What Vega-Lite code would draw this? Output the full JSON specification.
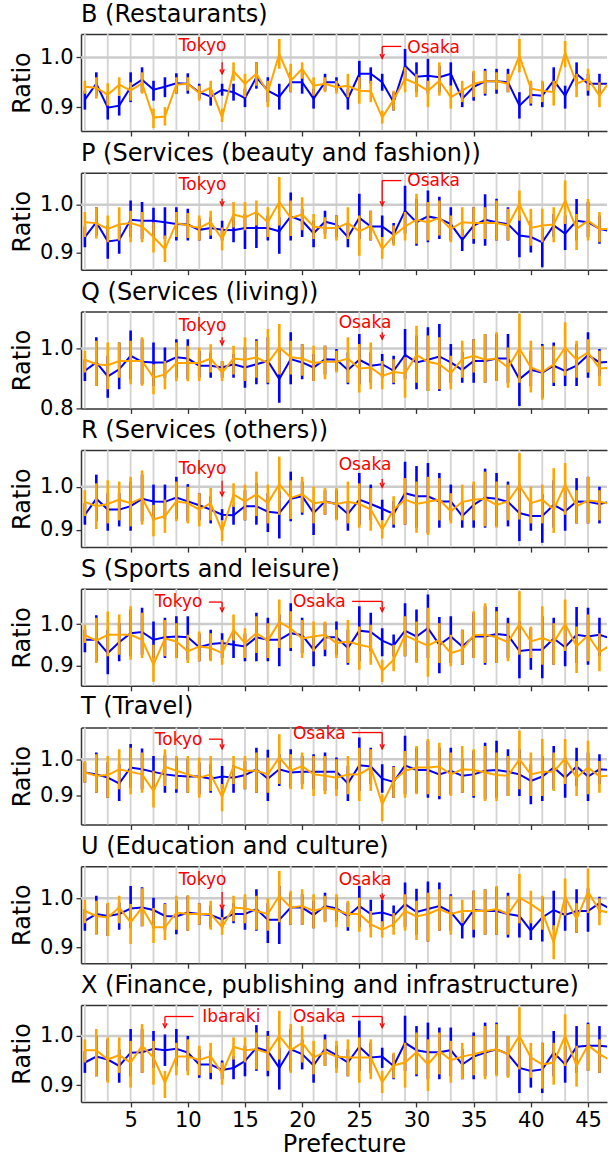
{
  "$schema": "https://vega.github.io/schema/vega-lite/v6.json",
  "padding": {"top": 3, "left": 10, "right": 0, "bottom": 0},
  "spacing": 41.7,
  "bounds": "flush",
  "datasets": {
    "odd": [{"pref":1},{"pref":3},{"pref":5},{"pref":7},{"pref":9},{"pref":11},{"pref":13},{"pref":15},{"pref":17},{"pref":19},{"pref":21},{"pref":23},{"pref":25},{"pref":27},{"pref":29},{"pref":31},{"pref":33},{"pref":35},{"pref":37},{"pref":39},{"pref":41},{"pref":43},{"pref":45},{"pref":47}],
    "ref": [{"ratio": 1.0}],
    "notes": [
      {"sector":"B","label":"Tokyo","x":11.3,"y":1.012},{"sector":"B","label":"Osaka","x":31.5,"y":1.008},
      {"sector":"P","label":"Tokyo","x":11.3,"y":1.031},{"sector":"P","label":"Osaka","x":31.5,"y":1.039},
      {"sector":"Q","label":"Tokyo","x":11.3,"y":1.057},{"sector":"Q","label":"Osaka","x":25.5,"y":1.068},
      {"sector":"R","label":"Tokyo","x":11.3,"y":1.030},{"sector":"R","label":"Osaka","x":25.5,"y":1.039},
      {"sector":"S","label":"Tokyo","x":9.2,"y":1.040},{"sector":"S","label":"Osaka","x":21.5,"y":1.040},
      {"sector":"T","label":"Tokyo","x":9.2,"y":1.039},{"sector":"T","label":"Osaka","x":21.5,"y":1.057},
      {"sector":"U","label":"Tokyo","x":11.3,"y":1.0275},{"sector":"U","label":"Osaka","x":25.5,"y":1.0275},
      {"sector":"X","label":"Ibaraki","x":13.8,"y":1.0286},{"sector":"X","label":"Osaka","x":21.5,"y":1.0286}
    ],
    "leaders": [
      {"sector":"B","x":13,"y":0.990,"x2":13,"y2":0.967},
      {"sector":"B","x":28.66,"y":1.022,"x2":27,"y2":1.022},{"sector":"B","x":27,"y":1.022,"x2":27,"y2":0.998},
      {"sector":"P","x":13,"y":1.0125,"x2":13,"y2":0.9985},
      {"sector":"P","x":28.66,"y":1.0506,"x2":27,"y2":1.0506},{"sector":"P","x":27,"y":1.0506,"x2":27,"y2":0.9985},
      {"sector":"Q","x":13,"y":1.037,"x2":13,"y2":1.0125},
      {"sector":"Q","x":27,"y":1.054,"x2":27,"y2":1.031},
      {"sector":"R","x":13,"y":1.014,"x2":13,"y2":0.979},
      {"sector":"R","x":27,"y":1.018,"x2":27,"y2":0.999},
      {"sector":"S","x":11.84,"y":1.053,"x2":13,"y2":1.053},{"sector":"S","x":13,"y":1.053,"x2":13,"y2":1.030},
      {"sector":"S","x":24.37,"y":1.0546,"x2":27,"y2":1.0546},{"sector":"S","x":27,"y":1.0546,"x2":27,"y2":1.030},
      {"sector":"T","x":11.84,"y":1.0556,"x2":13,"y2":1.0556},{"sector":"T","x":13,"y":1.0556,"x2":13,"y2":1.029},
      {"sector":"T","x":24.37,"y":1.074,"x2":27,"y2":1.074},{"sector":"T","x":27,"y":1.074,"x2":27,"y2":1.029},
      {"sector":"U","x":13,"y":1.0128,"x2":13,"y2":0.978},
      {"sector":"U","x":27,"y":1.010,"x2":27,"y2":0.998},
      {"sector":"X","x":10.49,"y":1.0394,"x2":8,"y2":1.0394},{"sector":"X","x":8,"y":1.0394,"x2":8,"y2":1.017},
      {"sector":"X","x":24.37,"y":1.0394,"x2":27,"y2":1.0394},{"sector":"X","x":27,"y":1.0394,"x2":27,"y2":1.017}
    ],
    "tips": [
      {"sector":"B","x":13,"y":0.967},{"sector":"B","x":27,"y":0.998},
      {"sector":"P","x":13,"y":0.9985},{"sector":"P","x":27,"y":0.9985},
      {"sector":"Q","x":13,"y":1.0125},{"sector":"Q","x":27,"y":1.031},
      {"sector":"R","x":13,"y":0.979},{"sector":"R","x":27,"y":0.999},
      {"sector":"S","x":13,"y":1.030},{"sector":"S","x":27,"y":1.030},
      {"sector":"T","x":13,"y":1.029},{"sector":"T","x":27,"y":1.029},
      {"sector":"U","x":13,"y":0.978},{"sector":"U","x":27,"y":0.998},
      {"sector":"X","x":8,"y":1.017},{"sector":"X","x":27,"y":1.017}
    ],
    "stats": [
      {"sector":"B","pref":1,"blue":0.915,"blue_lo":0.895,"blue_hi":0.933,"orange":0.941,"orange_lo":0.927,"orange_hi":0.953},
      {"sector":"B","pref":2,"blue":0.947,"blue_lo":0.923,"blue_hi":0.970,"orange":0.939,"orange_lo":0.917,"orange_hi":0.960},
      {"sector":"B","pref":3,"blue":0.899,"blue_lo":0.875,"blue_hi":0.923,"orange":0.925,"orange_lo":0.903,"orange_hi":0.948},
      {"sector":"B","pref":4,"blue":0.903,"blue_lo":0.883,"blue_hi":0.923,"orange":0.945,"orange_lo":0.923,"orange_hi":0.960},
      {"sector":"B","pref":5,"blue":0.940,"blue_lo":0.910,"blue_hi":0.970,"orange":0.933,"orange_lo":0.913,"orange_hi":0.950},
      {"sector":"B","pref":6,"blue":0.955,"blue_lo":0.930,"blue_hi":0.980,"orange":0.948,"orange_lo":0.927,"orange_hi":0.970},
      {"sector":"B","pref":7,"blue":0.935,"blue_lo":0.913,"blue_hi":0.953,"orange":0.879,"orange_lo":0.858,"orange_hi":0.897},
      {"sector":"B","pref":8,"blue":0.941,"blue_lo":0.920,"blue_hi":0.960,"orange":0.881,"orange_lo":0.863,"orange_hi":0.900},
      {"sector":"B","pref":9,"blue":0.948,"blue_lo":0.927,"blue_hi":0.968,"orange":0.945,"orange_lo":0.927,"orange_hi":0.960},
      {"sector":"B","pref":10,"blue":0.947,"blue_lo":0.927,"blue_hi":0.968,"orange":0.947,"orange_lo":0.933,"orange_hi":0.960},
      {"sector":"B","pref":11,"blue":0.930,"blue_lo":0.917,"blue_hi":0.947,"orange":0.928,"orange_lo":0.913,"orange_hi":0.943},
      {"sector":"B","pref":12,"blue":0.921,"blue_lo":0.903,"blue_hi":0.940,"orange":0.939,"orange_lo":0.920,"orange_hi":0.953},
      {"sector":"B","pref":13,"blue":0.935,"blue_lo":0.923,"blue_hi":0.947,"orange":0.879,"orange_lo":0.870,"orange_hi":0.897},
      {"sector":"B","pref":14,"blue":0.930,"blue_lo":0.913,"blue_hi":0.947,"orange":0.972,"orange_lo":0.953,"orange_hi":0.990},
      {"sector":"B","pref":15,"blue":0.918,"blue_lo":0.900,"blue_hi":0.937,"orange":0.947,"orange_lo":0.920,"orange_hi":0.967},
      {"sector":"B","pref":16,"blue":0.960,"blue_lo":0.937,"blue_hi":0.990,"orange":0.967,"orange_lo":0.943,"orange_hi":0.990},
      {"sector":"B","pref":17,"blue":0.933,"blue_lo":0.910,"blue_hi":0.960,"orange":0.930,"orange_lo":0.900,"orange_hi":0.953},
      {"sector":"B","pref":18,"blue":0.921,"blue_lo":0.895,"blue_hi":0.947,"orange":1.007,"orange_lo":0.977,"orange_hi":1.037},
      {"sector":"B","pref":19,"blue":0.950,"blue_lo":0.930,"blue_hi":0.970,"orange":0.953,"orange_lo":0.930,"orange_hi":0.987},
      {"sector":"B","pref":20,"blue":0.950,"blue_lo":0.927,"blue_hi":0.970,"orange":0.977,"orange_lo":0.957,"orange_hi":0.990},
      {"sector":"B","pref":21,"blue":0.917,"blue_lo":0.897,"blue_hi":0.937,"orange":0.943,"orange_lo":0.923,"orange_hi":0.960},
      {"sector":"B","pref":22,"blue":0.950,"blue_lo":0.933,"blue_hi":0.967,"orange":0.947,"orange_lo":0.930,"orange_hi":0.960},
      {"sector":"B","pref":23,"blue":0.950,"blue_lo":0.933,"blue_hi":0.960,"orange":0.940,"orange_lo":0.927,"orange_hi":0.953},
      {"sector":"B","pref":24,"blue":0.917,"blue_lo":0.895,"blue_hi":0.937,"orange":0.943,"orange_lo":0.920,"orange_hi":0.967},
      {"sector":"B","pref":25,"blue":0.967,"blue_lo":0.937,"blue_hi":0.993,"orange":0.933,"orange_lo":0.907,"orange_hi":0.960},
      {"sector":"B","pref":26,"blue":0.967,"blue_lo":0.947,"blue_hi":0.980,"orange":0.932,"orange_lo":0.910,"orange_hi":0.953},
      {"sector":"B","pref":27,"blue":0.950,"blue_lo":0.933,"blue_hi":0.967,"orange":0.879,"orange_lo":0.867,"orange_hi":0.893},
      {"sector":"B","pref":28,"blue":0.910,"blue_lo":0.893,"blue_hi":0.930,"orange":0.915,"orange_lo":0.893,"orange_hi":0.933},
      {"sector":"B","pref":29,"blue":0.983,"blue_lo":0.953,"blue_hi":1.017,"orange":0.957,"orange_lo":0.930,"orange_hi":0.980},
      {"sector":"B","pref":30,"blue":0.961,"blue_lo":0.930,"blue_hi":0.990,"orange":0.947,"orange_lo":0.920,"orange_hi":0.967},
      {"sector":"B","pref":31,"blue":0.963,"blue_lo":0.927,"blue_hi":0.997,"orange":0.933,"orange_lo":0.900,"orange_hi":0.953},
      {"sector":"B","pref":32,"blue":0.960,"blue_lo":0.930,"blue_hi":0.983,"orange":0.953,"orange_lo":0.923,"orange_hi":0.990},
      {"sector":"B","pref":33,"blue":0.967,"blue_lo":0.943,"blue_hi":0.990,"orange":0.920,"orange_lo":0.897,"orange_hi":0.943},
      {"sector":"B","pref":34,"blue":0.917,"blue_lo":0.900,"blue_hi":0.937,"orange":0.933,"orange_lo":0.910,"orange_hi":0.953},
      {"sector":"B","pref":35,"blue":0.941,"blue_lo":0.913,"blue_hi":0.970,"orange":0.947,"orange_lo":0.920,"orange_hi":0.973},
      {"sector":"B","pref":36,"blue":0.952,"blue_lo":0.923,"blue_hi":0.977,"orange":0.952,"orange_lo":0.927,"orange_hi":0.973},
      {"sector":"B","pref":37,"blue":0.952,"blue_lo":0.927,"blue_hi":0.977,"orange":0.952,"orange_lo":0.935,"orange_hi":0.970},
      {"sector":"B","pref":38,"blue":0.950,"blue_lo":0.930,"blue_hi":0.977,"orange":0.947,"orange_lo":0.930,"orange_hi":0.967},
      {"sector":"B","pref":39,"blue":0.903,"blue_lo":0.877,"blue_hi":0.930,"orange":1.003,"orange_lo":0.970,"orange_hi":1.037},
      {"sector":"B","pref":40,"blue":0.925,"blue_lo":0.903,"blue_hi":0.947,"orange":0.937,"orange_lo":0.907,"orange_hi":0.953},
      {"sector":"B","pref":41,"blue":0.923,"blue_lo":0.900,"blue_hi":0.950,"orange":0.933,"orange_lo":0.910,"orange_hi":0.953},
      {"sector":"B","pref":42,"blue":0.953,"blue_lo":0.930,"blue_hi":0.980,"orange":0.930,"orange_lo":0.903,"orange_hi":0.953},
      {"sector":"B","pref":43,"blue":0.923,"blue_lo":0.897,"blue_hi":0.943,"orange":1.010,"orange_lo":0.980,"orange_hi":1.033},
      {"sector":"B","pref":44,"blue":0.967,"blue_lo":0.943,"blue_hi":0.990,"orange":0.947,"orange_lo":0.920,"orange_hi":0.967},
      {"sector":"B","pref":45,"blue":0.947,"blue_lo":0.923,"blue_hi":0.967,"orange":0.957,"orange_lo":0.933,"orange_hi":0.977},
      {"sector":"B","pref":46,"blue":0.947,"blue_lo":0.927,"blue_hi":0.967,"orange":0.923,"orange_lo":0.900,"orange_hi":0.950},
      {"sector":"B","pref":47,"blue":0.947,"blue_lo":0.925,"blue_hi":0.970,"orange":0.955,"orange_lo":0.930,"orange_hi":0.980},

      {"sector":"P","pref":1,"blue":0.933,"blue_lo":0.912,"blue_hi":0.955,"orange":0.964,"orange_lo":0.933,"orange_hi":0.985},
      {"sector":"P","pref":2,"blue":0.964,"blue_lo":0.936,"blue_hi":0.995,"orange":0.962,"orange_lo":0.930,"orange_hi":0.995},
      {"sector":"P","pref":3,"blue":0.924,"blue_lo":0.888,"blue_hi":0.957,"orange":0.950,"orange_lo":0.922,"orange_hi":0.978},
      {"sector":"P","pref":4,"blue":0.927,"blue_lo":0.898,"blue_hi":0.957,"orange":0.959,"orange_lo":0.926,"orange_hi":0.995},
      {"sector":"P","pref":5,"blue":0.969,"blue_lo":0.933,"blue_hi":1.009,"orange":0.962,"orange_lo":0.922,"orange_hi":0.988},
      {"sector":"P","pref":6,"blue":0.967,"blue_lo":0.929,"blue_hi":1.006,"orange":0.955,"orange_lo":0.922,"orange_hi":0.985},
      {"sector":"P","pref":7,"blue":0.967,"blue_lo":0.933,"blue_hi":0.994,"orange":0.933,"orange_lo":0.901,"orange_hi":0.964},
      {"sector":"P","pref":8,"blue":0.964,"blue_lo":0.929,"blue_hi":0.995,"orange":0.908,"orange_lo":0.881,"orange_hi":0.936},
      {"sector":"P","pref":9,"blue":0.960,"blue_lo":0.926,"blue_hi":0.995,"orange":0.962,"orange_lo":0.933,"orange_hi":0.985},
      {"sector":"P","pref":10,"blue":0.959,"blue_lo":0.926,"blue_hi":0.992,"orange":0.957,"orange_lo":0.931,"orange_hi":0.983},
      {"sector":"P","pref":11,"blue":0.948,"blue_lo":0.926,"blue_hi":0.971,"orange":0.952,"orange_lo":0.926,"orange_hi":0.978},
      {"sector":"P","pref":12,"blue":0.952,"blue_lo":0.929,"blue_hi":0.974,"orange":0.964,"orange_lo":0.936,"orange_hi":0.988},
      {"sector":"P","pref":13,"blue":0.948,"blue_lo":0.926,"blue_hi":0.967,"orange":0.929,"orange_lo":0.905,"orange_hi":0.953},
      {"sector":"P","pref":14,"blue":0.947,"blue_lo":0.922,"blue_hi":0.974,"orange":0.980,"orange_lo":0.953,"orange_hi":1.006},
      {"sector":"P","pref":15,"blue":0.952,"blue_lo":0.908,"blue_hi":0.981,"orange":0.974,"orange_lo":0.947,"orange_hi":1.006},
      {"sector":"P","pref":16,"blue":0.952,"blue_lo":0.910,"blue_hi":0.985,"orange":0.985,"orange_lo":0.957,"orange_hi":1.009},
      {"sector":"P","pref":17,"blue":0.952,"blue_lo":0.926,"blue_hi":0.978,"orange":0.964,"orange_lo":0.933,"orange_hi":0.995},
      {"sector":"P","pref":18,"blue":0.945,"blue_lo":0.898,"blue_hi":0.974,"orange":1.006,"orange_lo":0.957,"orange_hi":1.058},
      {"sector":"P","pref":19,"blue":0.976,"blue_lo":0.926,"blue_hi":1.026,"orange":0.973,"orange_lo":0.935,"orange_hi":1.009},
      {"sector":"P","pref":20,"blue":0.967,"blue_lo":0.933,"blue_hi":0.992,"orange":0.980,"orange_lo":0.947,"orange_hi":1.016},
      {"sector":"P","pref":21,"blue":0.941,"blue_lo":0.912,"blue_hi":0.967,"orange":0.955,"orange_lo":0.929,"orange_hi":0.981},
      {"sector":"P","pref":22,"blue":0.965,"blue_lo":0.940,"blue_hi":0.988,"orange":0.952,"orange_lo":0.929,"orange_hi":0.974},
      {"sector":"P","pref":23,"blue":0.959,"blue_lo":0.933,"blue_hi":0.978,"orange":0.952,"orange_lo":0.926,"orange_hi":0.978},
      {"sector":"P","pref":24,"blue":0.933,"blue_lo":0.912,"blue_hi":0.961,"orange":0.962,"orange_lo":0.929,"orange_hi":0.995},
      {"sector":"P","pref":25,"blue":0.973,"blue_lo":0.929,"blue_hi":1.023,"orange":0.945,"orange_lo":0.894,"orange_hi":0.978},
      {"sector":"P","pref":26,"blue":0.955,"blue_lo":0.926,"blue_hi":0.988,"orange":0.957,"orange_lo":0.926,"orange_hi":0.988},
      {"sector":"P","pref":27,"blue":0.955,"blue_lo":0.933,"blue_hi":0.978,"orange":0.908,"orange_lo":0.888,"orange_hi":0.933},
      {"sector":"P","pref":28,"blue":0.938,"blue_lo":0.919,"blue_hi":0.962,"orange":0.936,"orange_lo":0.915,"orange_hi":0.957},
      {"sector":"P","pref":29,"blue":0.988,"blue_lo":0.940,"blue_hi":1.040,"orange":0.955,"orange_lo":0.926,"orange_hi":0.985},
      {"sector":"P","pref":30,"blue":0.964,"blue_lo":0.915,"blue_hi":1.013,"orange":0.969,"orange_lo":0.919,"orange_hi":1.023},
      {"sector":"P","pref":31,"blue":0.976,"blue_lo":0.922,"blue_hi":1.030,"orange":0.964,"orange_lo":0.926,"orange_hi":1.006},
      {"sector":"P","pref":32,"blue":0.971,"blue_lo":0.929,"blue_hi":1.017,"orange":0.973,"orange_lo":0.936,"orange_hi":1.009},
      {"sector":"P","pref":33,"blue":0.960,"blue_lo":0.926,"blue_hi":0.995,"orange":0.950,"orange_lo":0.922,"orange_hi":0.978},
      {"sector":"P","pref":34,"blue":0.927,"blue_lo":0.904,"blue_hi":0.950,"orange":0.964,"orange_lo":0.933,"orange_hi":0.995},
      {"sector":"P","pref":35,"blue":0.957,"blue_lo":0.919,"blue_hi":0.995,"orange":0.962,"orange_lo":0.929,"orange_hi":0.995},
      {"sector":"P","pref":36,"blue":0.969,"blue_lo":0.915,"blue_hi":1.022,"orange":0.962,"orange_lo":0.929,"orange_hi":0.995},
      {"sector":"P","pref":37,"blue":0.964,"blue_lo":0.926,"blue_hi":1.013,"orange":0.962,"orange_lo":0.926,"orange_hi":1.009},
      {"sector":"P","pref":38,"blue":0.960,"blue_lo":0.926,"blue_hi":0.995,"orange":0.957,"orange_lo":0.926,"orange_hi":0.992},
      {"sector":"P","pref":39,"blue":0.936,"blue_lo":0.891,"blue_hi":0.978,"orange":1.002,"orange_lo":0.967,"orange_hi":1.030},
      {"sector":"P","pref":40,"blue":0.933,"blue_lo":0.901,"blue_hi":0.967,"orange":0.952,"orange_lo":0.915,"orange_hi":0.992},
      {"sector":"P","pref":41,"blue":0.922,"blue_lo":0.870,"blue_hi":0.953,"orange":0.957,"orange_lo":0.922,"orange_hi":0.992},
      {"sector":"P","pref":42,"blue":0.957,"blue_lo":0.933,"blue_hi":0.981,"orange":0.959,"orange_lo":0.922,"orange_hi":0.995},
      {"sector":"P","pref":43,"blue":0.940,"blue_lo":0.906,"blue_hi":0.978,"orange":1.009,"orange_lo":0.960,"orange_hi":1.051},
      {"sector":"P","pref":44,"blue":0.967,"blue_lo":0.926,"blue_hi":1.012,"orange":0.950,"orange_lo":0.906,"orange_hi":0.981},
      {"sector":"P","pref":45,"blue":0.964,"blue_lo":0.933,"blue_hi":1.006,"orange":0.967,"orange_lo":0.926,"orange_hi":1.012},
      {"sector":"P","pref":46,"blue":0.950,"blue_lo":0.919,"blue_hi":0.978,"orange":0.950,"orange_lo":0.922,"orange_hi":0.985},
      {"sector":"P","pref":47,"blue":0.945,"blue_lo":0.915,"blue_hi":0.975,"orange":0.950,"orange_lo":0.920,"orange_hi":0.980},

      {"sector":"Q","pref":1,"blue":0.925,"blue_lo":0.891,"blue_hi":0.964,"orange":0.962,"orange_lo":0.919,"orange_hi":0.992},
      {"sector":"Q","pref":2,"blue":0.953,"blue_lo":0.874,"blue_hi":1.037,"orange":0.947,"orange_lo":0.874,"orange_hi":1.026},
      {"sector":"Q","pref":3,"blue":0.906,"blue_lo":0.835,"blue_hi":0.975,"orange":0.944,"orange_lo":0.863,"orange_hi":1.020},
      {"sector":"Q","pref":4,"blue":0.930,"blue_lo":0.863,"blue_hi":1.020,"orange":0.958,"orange_lo":0.902,"orange_hi":1.020},
      {"sector":"Q","pref":5,"blue":0.975,"blue_lo":0.897,"blue_hi":1.060,"orange":0.958,"orange_lo":0.880,"orange_hi":1.026},
      {"sector":"Q","pref":6,"blue":0.955,"blue_lo":0.880,"blue_hi":1.031,"orange":0.958,"orange_lo":0.875,"orange_hi":1.037},
      {"sector":"Q","pref":7,"blue":0.953,"blue_lo":0.874,"blue_hi":1.020,"orange":0.902,"orange_lo":0.846,"orange_hi":0.947},
      {"sector":"Q","pref":8,"blue":0.953,"blue_lo":0.902,"blue_hi":1.003,"orange":0.913,"orange_lo":0.863,"orange_hi":0.958},
      {"sector":"Q","pref":9,"blue":0.970,"blue_lo":0.902,"blue_hi":1.031,"orange":0.951,"orange_lo":0.890,"orange_hi":1.020},
      {"sector":"Q","pref":10,"blue":0.966,"blue_lo":0.897,"blue_hi":1.031,"orange":0.951,"orange_lo":0.890,"orange_hi":1.009},
      {"sector":"Q","pref":11,"blue":0.942,"blue_lo":0.902,"blue_hi":0.992,"orange":0.951,"orange_lo":0.891,"orange_hi":1.003},
      {"sector":"Q","pref":12,"blue":0.942,"blue_lo":0.902,"blue_hi":0.986,"orange":0.966,"orange_lo":0.919,"orange_hi":1.014},
      {"sector":"Q","pref":13,"blue":0.936,"blue_lo":0.902,"blue_hi":0.958,"orange":0.919,"orange_lo":0.891,"orange_hi":0.958},
      {"sector":"Q","pref":14,"blue":0.947,"blue_lo":0.902,"blue_hi":0.981,"orange":0.966,"orange_lo":0.913,"orange_hi":1.009},
      {"sector":"Q","pref":15,"blue":0.936,"blue_lo":0.868,"blue_hi":1.004,"orange":0.962,"orange_lo":0.891,"orange_hi":1.037},
      {"sector":"Q","pref":16,"blue":0.947,"blue_lo":0.880,"blue_hi":1.031,"orange":0.970,"orange_lo":0.902,"orange_hi":1.026},
      {"sector":"Q","pref":17,"blue":0.958,"blue_lo":0.880,"blue_hi":1.037,"orange":0.951,"orange_lo":0.885,"orange_hi":1.065},
      {"sector":"Q","pref":18,"blue":0.897,"blue_lo":0.818,"blue_hi":1.003,"orange":1.003,"orange_lo":0.913,"orange_hi":1.082},
      {"sector":"Q","pref":19,"blue":0.964,"blue_lo":0.880,"blue_hi":1.054,"orange":0.970,"orange_lo":0.913,"orange_hi":1.026},
      {"sector":"Q","pref":20,"blue":0.953,"blue_lo":0.897,"blue_hi":1.014,"orange":0.966,"orange_lo":0.908,"orange_hi":1.014},
      {"sector":"Q","pref":21,"blue":0.936,"blue_lo":0.891,"blue_hi":0.981,"orange":0.951,"orange_lo":0.891,"orange_hi":1.009},
      {"sector":"Q","pref":22,"blue":0.964,"blue_lo":0.913,"blue_hi":1.009,"orange":0.955,"orange_lo":0.897,"orange_hi":1.009},
      {"sector":"Q","pref":23,"blue":0.962,"blue_lo":0.925,"blue_hi":0.998,"orange":0.955,"orange_lo":0.919,"orange_hi":0.992},
      {"sector":"Q","pref":24,"blue":0.928,"blue_lo":0.880,"blue_hi":0.986,"orange":0.966,"orange_lo":0.885,"orange_hi":1.037},
      {"sector":"Q","pref":25,"blue":0.962,"blue_lo":0.880,"blue_hi":1.048,"orange":0.933,"orange_lo":0.852,"orange_hi":1.015},
      {"sector":"Q","pref":26,"blue":0.942,"blue_lo":0.885,"blue_hi":0.986,"orange":0.936,"orange_lo":0.863,"orange_hi":1.020},
      {"sector":"Q","pref":27,"blue":0.947,"blue_lo":0.902,"blue_hi":0.981,"orange":0.908,"orange_lo":0.863,"orange_hi":0.958},
      {"sector":"Q","pref":28,"blue":0.925,"blue_lo":0.880,"blue_hi":0.975,"orange":0.921,"orange_lo":0.885,"orange_hi":0.964},
      {"sector":"Q","pref":29,"blue":0.978,"blue_lo":0.897,"blue_hi":1.065,"orange":0.917,"orange_lo":0.835,"orange_hi":0.970},
      {"sector":"Q","pref":30,"blue":0.953,"blue_lo":0.863,"blue_hi":1.043,"orange":0.978,"orange_lo":0.885,"orange_hi":1.076},
      {"sector":"Q","pref":31,"blue":0.962,"blue_lo":0.857,"blue_hi":1.071,"orange":0.955,"orange_lo":0.857,"orange_hi":1.043},
      {"sector":"Q","pref":32,"blue":0.973,"blue_lo":0.857,"blue_hi":1.082,"orange":0.947,"orange_lo":0.863,"orange_hi":1.037},
      {"sector":"Q","pref":33,"blue":0.953,"blue_lo":0.885,"blue_hi":1.015,"orange":0.917,"orange_lo":0.863,"orange_hi":0.975},
      {"sector":"Q","pref":34,"blue":0.928,"blue_lo":0.885,"blue_hi":0.988,"orange":0.964,"orange_lo":0.902,"orange_hi":1.026},
      {"sector":"Q","pref":35,"blue":0.958,"blue_lo":0.885,"blue_hi":1.031,"orange":0.975,"orange_lo":0.919,"orange_hi":1.031},
      {"sector":"Q","pref":36,"blue":0.958,"blue_lo":0.885,"blue_hi":1.048,"orange":0.962,"orange_lo":0.885,"orange_hi":1.048},
      {"sector":"Q","pref":37,"blue":0.966,"blue_lo":0.891,"blue_hi":1.048,"orange":0.966,"orange_lo":0.891,"orange_hi":1.054},
      {"sector":"Q","pref":38,"blue":0.966,"blue_lo":0.885,"blue_hi":1.048,"orange":0.936,"orange_lo":0.868,"orange_hi":1.003},
      {"sector":"Q","pref":39,"blue":0.897,"blue_lo":0.807,"blue_hi":0.980,"orange":1.000,"orange_lo":0.885,"orange_hi":1.116},
      {"sector":"Q","pref":40,"blue":0.928,"blue_lo":0.874,"blue_hi":0.992,"orange":0.936,"orange_lo":0.852,"orange_hi":1.026},
      {"sector":"Q","pref":41,"blue":0.919,"blue_lo":0.835,"blue_hi":1.015,"orange":0.921,"orange_lo":0.828,"orange_hi":1.009},
      {"sector":"Q","pref":42,"blue":0.942,"blue_lo":0.874,"blue_hi":1.020,"orange":0.947,"orange_lo":0.885,"orange_hi":1.009},
      {"sector":"Q","pref":43,"blue":0.925,"blue_lo":0.874,"blue_hi":0.992,"orange":1.003,"orange_lo":0.908,"orange_hi":1.088},
      {"sector":"Q","pref":44,"blue":0.942,"blue_lo":0.874,"blue_hi":1.014,"orange":0.962,"orange_lo":0.902,"orange_hi":1.026},
      {"sector":"Q","pref":45,"blue":0.978,"blue_lo":0.902,"blue_hi":1.054,"orange":0.987,"orange_lo":0.919,"orange_hi":1.031},
      {"sector":"Q","pref":46,"blue":0.953,"blue_lo":0.908,"blue_hi":0.998,"orange":0.933,"orange_lo":0.874,"orange_hi":0.992},
      {"sector":"Q","pref":47,"blue":0.955,"blue_lo":0.900,"blue_hi":1.010,"orange":0.935,"orange_lo":0.880,"orange_hi":0.995},

      {"sector":"R","pref":1,"blue":0.935,"blue_lo":0.912,"blue_hi":0.962,"orange":0.965,"orange_lo":0.932,"orange_hi":0.992},
      {"sector":"R","pref":2,"blue":0.972,"blue_lo":0.920,"blue_hi":1.028,"orange":0.955,"orange_lo":0.902,"orange_hi":1.008},
      {"sector":"R","pref":3,"blue":0.947,"blue_lo":0.898,"blue_hi":0.985,"orange":0.960,"orange_lo":0.915,"orange_hi":1.015},
      {"sector":"R","pref":4,"blue":0.947,"blue_lo":0.908,"blue_hi":0.985,"orange":0.970,"orange_lo":0.922,"orange_hi":1.012},
      {"sector":"R","pref":5,"blue":0.955,"blue_lo":0.898,"blue_hi":1.012,"orange":0.962,"orange_lo":0.908,"orange_hi":1.023},
      {"sector":"R","pref":6,"blue":0.972,"blue_lo":0.920,"blue_hi":1.028,"orange":0.974,"orange_lo":0.912,"orange_hi":1.038},
      {"sector":"R","pref":7,"blue":0.966,"blue_lo":0.922,"blue_hi":1.005,"orange":0.924,"orange_lo":0.885,"orange_hi":0.958},
      {"sector":"R","pref":8,"blue":0.965,"blue_lo":0.925,"blue_hi":1.005,"orange":0.932,"orange_lo":0.893,"orange_hi":0.970},
      {"sector":"R","pref":9,"blue":0.975,"blue_lo":0.925,"blue_hi":1.023,"orange":0.966,"orange_lo":0.920,"orange_hi":1.012},
      {"sector":"R","pref":10,"blue":0.966,"blue_lo":0.920,"blue_hi":1.006,"orange":0.962,"orange_lo":0.915,"orange_hi":1.000},
      {"sector":"R","pref":11,"blue":0.957,"blue_lo":0.922,"blue_hi":0.985,"orange":0.947,"orange_lo":0.908,"orange_hi":0.985},
      {"sector":"R","pref":12,"blue":0.947,"blue_lo":0.915,"blue_hi":0.978,"orange":0.962,"orange_lo":0.922,"orange_hi":0.997},
      {"sector":"R","pref":13,"blue":0.935,"blue_lo":0.922,"blue_hi":0.948,"orange":0.897,"orange_lo":0.874,"orange_hi":0.920},
      {"sector":"R","pref":14,"blue":0.934,"blue_lo":0.912,"blue_hi":0.958,"orange":0.982,"orange_lo":0.953,"orange_hi":1.008},
      {"sector":"R","pref":15,"blue":0.955,"blue_lo":0.922,"blue_hi":0.992,"orange":0.966,"orange_lo":0.922,"orange_hi":1.005},
      {"sector":"R","pref":16,"blue":0.955,"blue_lo":0.912,"blue_hi":1.008,"orange":0.982,"orange_lo":0.932,"orange_hi":1.035},
      {"sector":"R","pref":17,"blue":0.942,"blue_lo":0.895,"blue_hi":0.985,"orange":0.962,"orange_lo":0.915,"orange_hi":1.005},
      {"sector":"R","pref":18,"blue":0.939,"blue_lo":0.880,"blue_hi":0.990,"orange":1.006,"orange_lo":0.935,"orange_hi":1.070},
      {"sector":"R","pref":19,"blue":0.972,"blue_lo":0.920,"blue_hi":1.035,"orange":0.974,"orange_lo":0.925,"orange_hi":1.015},
      {"sector":"R","pref":20,"blue":0.978,"blue_lo":0.935,"blue_hi":1.012,"orange":0.983,"orange_lo":0.940,"orange_hi":1.023},
      {"sector":"R","pref":21,"blue":0.939,"blue_lo":0.888,"blue_hi":0.965,"orange":0.962,"orange_lo":0.915,"orange_hi":1.000},
      {"sector":"R","pref":22,"blue":0.966,"blue_lo":0.935,"blue_hi":0.992,"orange":0.965,"orange_lo":0.935,"orange_hi":0.997},
      {"sector":"R","pref":23,"blue":0.960,"blue_lo":0.925,"blue_hi":0.992,"orange":0.960,"orange_lo":0.922,"orange_hi":0.997},
      {"sector":"R","pref":24,"blue":0.937,"blue_lo":0.898,"blue_hi":0.967,"orange":0.965,"orange_lo":0.915,"orange_hi":1.012},
      {"sector":"R","pref":25,"blue":0.970,"blue_lo":0.912,"blue_hi":1.032,"orange":0.960,"orange_lo":0.905,"orange_hi":1.008},
      {"sector":"R","pref":26,"blue":0.960,"blue_lo":0.922,"blue_hi":1.005,"orange":0.947,"orange_lo":0.898,"orange_hi":0.997},
      {"sector":"R","pref":27,"blue":0.949,"blue_lo":0.922,"blue_hi":0.970,"orange":0.901,"orange_lo":0.880,"orange_hi":0.922},
      {"sector":"R","pref":28,"blue":0.937,"blue_lo":0.905,"blue_hi":0.967,"orange":0.947,"orange_lo":0.912,"orange_hi":0.978},
      {"sector":"R","pref":29,"blue":0.985,"blue_lo":0.912,"blue_hi":1.058,"orange":0.970,"orange_lo":0.912,"orange_hi":1.020},
      {"sector":"R","pref":30,"blue":0.978,"blue_lo":0.905,"blue_hi":1.048,"orange":0.960,"orange_lo":0.893,"orange_hi":1.012},
      {"sector":"R","pref":31,"blue":0.978,"blue_lo":0.893,"blue_hi":1.055,"orange":0.965,"orange_lo":0.888,"orange_hi":1.023},
      {"sector":"R","pref":32,"blue":0.966,"blue_lo":0.905,"blue_hi":1.032,"orange":0.970,"orange_lo":0.922,"orange_hi":1.020},
      {"sector":"R","pref":33,"blue":0.966,"blue_lo":0.922,"blue_hi":1.005,"orange":0.943,"orange_lo":0.915,"orange_hi":0.985},
      {"sector":"R","pref":34,"blue":0.932,"blue_lo":0.905,"blue_hi":0.967,"orange":0.965,"orange_lo":0.922,"orange_hi":1.005},
      {"sector":"R","pref":35,"blue":0.958,"blue_lo":0.905,"blue_hi":1.005,"orange":0.970,"orange_lo":0.922,"orange_hi":1.012},
      {"sector":"R","pref":36,"blue":0.975,"blue_lo":0.905,"blue_hi":1.042,"orange":0.972,"orange_lo":0.908,"orange_hi":1.035},
      {"sector":"R","pref":37,"blue":0.972,"blue_lo":0.908,"blue_hi":1.032,"orange":0.958,"orange_lo":0.905,"orange_hi":1.012},
      {"sector":"R","pref":38,"blue":0.965,"blue_lo":0.908,"blue_hi":1.012,"orange":0.966,"orange_lo":0.922,"orange_hi":1.005},
      {"sector":"R","pref":39,"blue":0.939,"blue_lo":0.874,"blue_hi":1.005,"orange":1.003,"orange_lo":0.924,"orange_hi":1.078},
      {"sector":"R","pref":40,"blue":0.932,"blue_lo":0.898,"blue_hi":0.967,"orange":0.962,"orange_lo":0.915,"orange_hi":1.000},
      {"sector":"R","pref":41,"blue":0.932,"blue_lo":0.870,"blue_hi":0.983,"orange":0.970,"orange_lo":0.915,"orange_hi":1.005},
      {"sector":"R","pref":42,"blue":0.958,"blue_lo":0.905,"blue_hi":1.015,"orange":0.947,"orange_lo":0.893,"orange_hi":1.043},
      {"sector":"R","pref":43,"blue":0.943,"blue_lo":0.898,"blue_hi":0.992,"orange":1.005,"orange_lo":0.935,"orange_hi":1.055},
      {"sector":"R","pref":44,"blue":0.966,"blue_lo":0.915,"blue_hi":1.020,"orange":0.955,"orange_lo":0.915,"orange_hi":0.992},
      {"sector":"R","pref":45,"blue":0.965,"blue_lo":0.915,"blue_hi":1.023,"orange":0.968,"orange_lo":0.915,"orange_hi":1.023},
      {"sector":"R","pref":46,"blue":0.960,"blue_lo":0.915,"blue_hi":1.000,"orange":0.965,"orange_lo":0.922,"orange_hi":0.992},
      {"sector":"R","pref":47,"blue":0.965,"blue_lo":0.920,"blue_hi":1.010,"orange":0.960,"orange_lo":0.920,"orange_hi":1.000},

      {"sector":"S","pref":1,"blue":0.962,"blue_lo":0.932,"blue_hi":0.986,"orange":0.973,"orange_lo":0.954,"orange_hi":0.998},
      {"sector":"S","pref":2,"blue":0.962,"blue_lo":0.910,"blue_hi":1.021,"orange":0.960,"orange_lo":0.906,"orange_hi":1.015},
      {"sector":"S","pref":3,"blue":0.930,"blue_lo":0.879,"blue_hi":0.986,"orange":0.974,"orange_lo":0.922,"orange_hi":1.030},
      {"sector":"S","pref":4,"blue":0.956,"blue_lo":0.910,"blue_hi":1.002,"orange":0.974,"orange_lo":0.926,"orange_hi":1.023},
      {"sector":"S","pref":5,"blue":0.978,"blue_lo":0.922,"blue_hi":1.035,"orange":0.974,"orange_lo":0.914,"orange_hi":1.043},
      {"sector":"S","pref":6,"blue":0.981,"blue_lo":0.926,"blue_hi":1.039,"orange":0.962,"orange_lo":0.918,"orange_hi":1.027},
      {"sector":"S","pref":7,"blue":0.962,"blue_lo":0.918,"blue_hi":1.006,"orange":0.902,"orange_lo":0.861,"orange_hi":0.950},
      {"sector":"S","pref":8,"blue":0.968,"blue_lo":0.918,"blue_hi":1.015,"orange":0.965,"orange_lo":0.922,"orange_hi":1.010},
      {"sector":"S","pref":9,"blue":0.970,"blue_lo":0.918,"blue_hi":1.019,"orange":0.958,"orange_lo":0.918,"orange_hi":1.002},
      {"sector":"S","pref":10,"blue":0.968,"blue_lo":0.914,"blue_hi":1.019,"orange":0.934,"orange_lo":0.906,"orange_hi":0.974},
      {"sector":"S","pref":11,"blue":0.944,"blue_lo":0.910,"blue_hi":0.977,"orange":0.946,"orange_lo":0.910,"orange_hi":0.982},
      {"sector":"S","pref":12,"blue":0.952,"blue_lo":0.914,"blue_hi":0.986,"orange":0.942,"orange_lo":0.910,"orange_hi":0.978},
      {"sector":"S","pref":13,"blue":0.954,"blue_lo":0.918,"blue_hi":0.978,"orange":0.930,"orange_lo":0.902,"orange_hi":0.962},
      {"sector":"S","pref":14,"blue":0.950,"blue_lo":0.918,"blue_hi":0.982,"orange":0.986,"orange_lo":0.960,"orange_hi":1.023},
      {"sector":"S","pref":15,"blue":0.946,"blue_lo":0.910,"blue_hi":0.977,"orange":0.954,"orange_lo":0.918,"orange_hi":0.990},
      {"sector":"S","pref":16,"blue":0.968,"blue_lo":0.910,"blue_hi":1.027,"orange":0.978,"orange_lo":0.930,"orange_hi":1.019},
      {"sector":"S","pref":17,"blue":0.962,"blue_lo":0.910,"blue_hi":1.015,"orange":0.960,"orange_lo":0.918,"orange_hi":1.002},
      {"sector":"S","pref":18,"blue":0.962,"blue_lo":0.898,"blue_hi":1.023,"orange":1.005,"orange_lo":0.942,"orange_hi":1.059},
      {"sector":"S","pref":19,"blue":0.978,"blue_lo":0.935,"blue_hi":1.050,"orange":0.989,"orange_lo":0.942,"orange_hi":1.031},
      {"sector":"S","pref":20,"blue":0.973,"blue_lo":0.930,"blue_hi":1.015,"orange":0.965,"orange_lo":0.918,"orange_hi":1.010},
      {"sector":"S","pref":21,"blue":0.938,"blue_lo":0.898,"blue_hi":0.970,"orange":0.970,"orange_lo":0.934,"orange_hi":1.006},
      {"sector":"S","pref":22,"blue":0.968,"blue_lo":0.922,"blue_hi":1.002,"orange":0.974,"orange_lo":0.938,"orange_hi":1.006},
      {"sector":"S","pref":23,"blue":0.968,"blue_lo":0.926,"blue_hi":1.006,"orange":0.954,"orange_lo":0.918,"orange_hi":0.986},
      {"sector":"S","pref":24,"blue":0.942,"blue_lo":0.902,"blue_hi":0.986,"orange":0.958,"orange_lo":0.906,"orange_hi":1.010},
      {"sector":"S","pref":25,"blue":0.984,"blue_lo":0.910,"blue_hi":1.043,"orange":0.950,"orange_lo":0.890,"orange_hi":0.994},
      {"sector":"S","pref":26,"blue":0.981,"blue_lo":0.934,"blue_hi":1.027,"orange":0.944,"orange_lo":0.902,"orange_hi":0.998},
      {"sector":"S","pref":27,"blue":0.960,"blue_lo":0.922,"blue_hi":0.990,"orange":0.887,"orange_lo":0.860,"orange_hi":0.914},
      {"sector":"S","pref":28,"blue":0.948,"blue_lo":0.922,"blue_hi":0.975,"orange":0.914,"orange_lo":0.886,"orange_hi":0.950},
      {"sector":"S","pref":29,"blue":0.984,"blue_lo":0.922,"blue_hi":1.050,"orange":0.973,"orange_lo":0.922,"orange_hi":1.019},
      {"sector":"S","pref":30,"blue":0.970,"blue_lo":0.910,"blue_hi":1.035,"orange":0.960,"orange_lo":0.906,"orange_hi":1.006},
      {"sector":"S","pref":31,"blue":0.990,"blue_lo":0.918,"blue_hi":1.071,"orange":0.948,"orange_lo":0.873,"orange_hi":1.039},
      {"sector":"S","pref":32,"blue":0.950,"blue_lo":0.881,"blue_hi":1.017,"orange":0.962,"orange_lo":0.906,"orange_hi":1.002},
      {"sector":"S","pref":33,"blue":0.970,"blue_lo":0.906,"blue_hi":1.019,"orange":0.930,"orange_lo":0.898,"orange_hi":0.974},
      {"sector":"S","pref":34,"blue":0.946,"blue_lo":0.902,"blue_hi":0.986,"orange":0.938,"orange_lo":0.902,"orange_hi":0.986},
      {"sector":"S","pref":35,"blue":0.970,"blue_lo":0.918,"blue_hi":1.027,"orange":0.973,"orange_lo":0.918,"orange_hi":1.031},
      {"sector":"S","pref":36,"blue":0.970,"blue_lo":0.902,"blue_hi":1.043,"orange":0.974,"orange_lo":0.906,"orange_hi":1.050},
      {"sector":"S","pref":37,"blue":0.976,"blue_lo":0.906,"blue_hi":1.041,"orange":0.968,"orange_lo":0.906,"orange_hi":1.031},
      {"sector":"S","pref":38,"blue":0.973,"blue_lo":0.918,"blue_hi":1.015,"orange":0.956,"orange_lo":0.910,"orange_hi":1.002},
      {"sector":"S","pref":39,"blue":0.935,"blue_lo":0.869,"blue_hi":1.006,"orange":1.000,"orange_lo":0.926,"orange_hi":1.079},
      {"sector":"S","pref":40,"blue":0.938,"blue_lo":0.890,"blue_hi":0.990,"orange":0.958,"orange_lo":0.918,"orange_hi":0.994},
      {"sector":"S","pref":41,"blue":0.938,"blue_lo":0.869,"blue_hi":1.019,"orange":0.966,"orange_lo":0.902,"orange_hi":1.043},
      {"sector":"S","pref":42,"blue":0.965,"blue_lo":0.902,"blue_hi":1.015,"orange":0.956,"orange_lo":0.902,"orange_hi":1.002},
      {"sector":"S","pref":43,"blue":0.944,"blue_lo":0.898,"blue_hi":0.994,"orange":1.000,"orange_lo":0.935,"orange_hi":1.059},
      {"sector":"S","pref":44,"blue":0.974,"blue_lo":0.906,"blue_hi":1.041,"orange":0.946,"orange_lo":0.882,"orange_hi":0.994},
      {"sector":"S","pref":45,"blue":0.970,"blue_lo":0.902,"blue_hi":1.039,"orange":0.973,"orange_lo":0.910,"orange_hi":1.023},
      {"sector":"S","pref":46,"blue":0.974,"blue_lo":0.922,"blue_hi":1.015,"orange":0.932,"orange_lo":0.886,"orange_hi":0.977},
      {"sector":"S","pref":47,"blue":0.965,"blue_lo":0.915,"blue_hi":1.010,"orange":0.950,"orange_lo":0.900,"orange_hi":1.000},

      {"sector":"T","pref":1,"blue":0.963,"blue_lo":0.935,"blue_hi":0.991,"orange":0.963,"orange_lo":0.935,"orange_hi":0.995},
      {"sector":"T","pref":2,"blue":0.958,"blue_lo":0.907,"blue_hi":1.019,"orange":0.954,"orange_lo":0.907,"orange_hi":1.014},
      {"sector":"T","pref":3,"blue":0.949,"blue_lo":0.893,"blue_hi":0.991,"orange":0.956,"orange_lo":0.893,"orange_hi":1.009},
      {"sector":"T","pref":4,"blue":0.933,"blue_lo":0.884,"blue_hi":0.986,"orange":0.972,"orange_lo":0.917,"orange_hi":1.028},
      {"sector":"T","pref":5,"blue":0.977,"blue_lo":0.921,"blue_hi":1.042,"orange":0.965,"orange_lo":0.903,"orange_hi":1.032},
      {"sector":"T","pref":6,"blue":0.972,"blue_lo":0.917,"blue_hi":1.030,"orange":0.958,"orange_lo":0.907,"orange_hi":1.019},
      {"sector":"T","pref":7,"blue":0.965,"blue_lo":0.917,"blue_hi":1.009,"orange":0.912,"orange_lo":0.866,"orange_hi":0.968},
      {"sector":"T","pref":8,"blue":0.958,"blue_lo":0.907,"blue_hi":1.011,"orange":0.979,"orange_lo":0.926,"orange_hi":1.028},
      {"sector":"T","pref":9,"blue":0.954,"blue_lo":0.907,"blue_hi":1.005,"orange":0.968,"orange_lo":0.917,"orange_hi":1.009},
      {"sector":"T","pref":10,"blue":0.952,"blue_lo":0.907,"blue_hi":1.000,"orange":0.958,"orange_lo":0.907,"orange_hi":1.009},
      {"sector":"T","pref":11,"blue":0.952,"blue_lo":0.903,"blue_hi":0.991,"orange":0.949,"orange_lo":0.893,"orange_hi":1.005},
      {"sector":"T","pref":12,"blue":0.946,"blue_lo":0.907,"blue_hi":0.986,"orange":0.958,"orange_lo":0.912,"orange_hi":1.009},
      {"sector":"T","pref":13,"blue":0.952,"blue_lo":0.917,"blue_hi":0.981,"orange":0.896,"orange_lo":0.856,"orange_hi":0.931},
      {"sector":"T","pref":14,"blue":0.949,"blue_lo":0.907,"blue_hi":0.984,"orange":0.981,"orange_lo":0.931,"orange_hi":1.009},
      {"sector":"T","pref":15,"blue":0.956,"blue_lo":0.917,"blue_hi":0.995,"orange":0.968,"orange_lo":0.917,"orange_hi":1.009},
      {"sector":"T","pref":16,"blue":0.972,"blue_lo":0.907,"blue_hi":1.032,"orange":0.968,"orange_lo":0.907,"orange_hi":1.019},
      {"sector":"T","pref":17,"blue":0.946,"blue_lo":0.884,"blue_hi":1.026,"orange":0.958,"orange_lo":0.907,"orange_hi":1.005},
      {"sector":"T","pref":18,"blue":0.972,"blue_lo":0.926,"blue_hi":1.014,"orange":1.005,"orange_lo":0.931,"orange_hi":1.069},
      {"sector":"T","pref":19,"blue":0.963,"blue_lo":0.921,"blue_hi":1.028,"orange":0.968,"orange_lo":0.917,"orange_hi":1.014},
      {"sector":"T","pref":20,"blue":0.965,"blue_lo":0.931,"blue_hi":1.009,"orange":0.981,"orange_lo":0.917,"orange_hi":1.019},
      {"sector":"T","pref":21,"blue":0.965,"blue_lo":0.917,"blue_hi":1.014,"orange":0.958,"orange_lo":0.898,"orange_hi":1.009},
      {"sector":"T","pref":22,"blue":0.965,"blue_lo":0.912,"blue_hi":1.019,"orange":0.954,"orange_lo":0.903,"orange_hi":1.009},
      {"sector":"T","pref":23,"blue":0.965,"blue_lo":0.917,"blue_hi":1.005,"orange":0.949,"orange_lo":0.898,"orange_hi":1.000},
      {"sector":"T","pref":24,"blue":0.933,"blue_lo":0.884,"blue_hi":0.981,"orange":0.958,"orange_lo":0.903,"orange_hi":1.009},
      {"sector":"T","pref":25,"blue":0.983,"blue_lo":0.912,"blue_hi":1.060,"orange":0.958,"orange_lo":0.884,"orange_hi":1.032},
      {"sector":"T","pref":26,"blue":0.980,"blue_lo":0.931,"blue_hi":1.032,"orange":0.977,"orange_lo":0.912,"orange_hi":1.028},
      {"sector":"T","pref":27,"blue":0.946,"blue_lo":0.907,"blue_hi":0.986,"orange":0.875,"orange_lo":0.829,"orange_hi":0.903},
      {"sector":"T","pref":28,"blue":0.937,"blue_lo":0.893,"blue_hi":0.981,"orange":0.940,"orange_lo":0.893,"orange_hi":0.979},
      {"sector":"T","pref":29,"blue":0.983,"blue_lo":0.903,"blue_hi":1.065,"orange":0.968,"orange_lo":0.893,"orange_hi":1.023},
      {"sector":"T","pref":30,"blue":0.970,"blue_lo":0.907,"blue_hi":1.032,"orange":0.977,"orange_lo":0.903,"orange_hi":1.037},
      {"sector":"T","pref":31,"blue":0.970,"blue_lo":0.893,"blue_hi":1.051,"orange":0.977,"orange_lo":0.903,"orange_hi":1.056},
      {"sector":"T","pref":32,"blue":0.958,"blue_lo":0.889,"blue_hi":1.032,"orange":0.980,"orange_lo":0.898,"orange_hi":1.046},
      {"sector":"T","pref":33,"blue":0.968,"blue_lo":0.903,"blue_hi":1.032,"orange":0.958,"orange_lo":0.898,"orange_hi":1.019},
      {"sector":"T","pref":34,"blue":0.954,"blue_lo":0.907,"blue_hi":1.000,"orange":0.972,"orange_lo":0.907,"orange_hi":1.037},
      {"sector":"T","pref":35,"blue":0.958,"blue_lo":0.893,"blue_hi":1.023,"orange":0.970,"orange_lo":0.898,"orange_hi":1.028},
      {"sector":"T","pref":36,"blue":0.968,"blue_lo":0.889,"blue_hi":1.046,"orange":0.963,"orange_lo":0.884,"orange_hi":1.037},
      {"sector":"T","pref":37,"blue":0.970,"blue_lo":0.893,"blue_hi":1.051,"orange":0.956,"orange_lo":0.884,"orange_hi":1.019},
      {"sector":"T","pref":38,"blue":0.965,"blue_lo":0.898,"blue_hi":1.028,"orange":0.954,"orange_lo":0.898,"orange_hi":1.009},
      {"sector":"T","pref":39,"blue":0.958,"blue_lo":0.898,"blue_hi":1.028,"orange":1.000,"orange_lo":0.917,"orange_hi":1.079},
      {"sector":"T","pref":40,"blue":0.940,"blue_lo":0.875,"blue_hi":0.986,"orange":0.958,"orange_lo":0.898,"orange_hi":1.019},
      {"sector":"T","pref":41,"blue":0.952,"blue_lo":0.884,"blue_hi":1.009,"orange":0.965,"orange_lo":0.898,"orange_hi":1.056},
      {"sector":"T","pref":42,"blue":0.977,"blue_lo":0.917,"blue_hi":1.037,"orange":0.965,"orange_lo":0.912,"orange_hi":1.019},
      {"sector":"T","pref":43,"blue":0.949,"blue_lo":0.893,"blue_hi":1.005,"orange":1.002,"orange_lo":0.931,"orange_hi":1.056},
      {"sector":"T","pref":44,"blue":0.980,"blue_lo":0.926,"blue_hi":1.032,"orange":0.949,"orange_lo":0.898,"orange_hi":0.995},
      {"sector":"T","pref":45,"blue":0.952,"blue_lo":0.884,"blue_hi":1.019,"orange":0.977,"orange_lo":0.903,"orange_hi":1.051},
      {"sector":"T","pref":46,"blue":0.972,"blue_lo":0.931,"blue_hi":1.014,"orange":0.952,"orange_lo":0.907,"orange_hi":0.995},
      {"sector":"T","pref":47,"blue":0.970,"blue_lo":0.925,"blue_hi":1.015,"orange":0.955,"orange_lo":0.905,"orange_hi":1.000},

      {"sector":"U","pref":1,"blue":0.954,"blue_lo":0.934,"blue_hi":0.978,"orange":0.974,"orange_lo":0.949,"orange_hi":0.997},
      {"sector":"U","pref":2,"blue":0.968,"blue_lo":0.927,"blue_hi":1.005,"orange":0.964,"orange_lo":0.926,"orange_hi":0.995},
      {"sector":"U","pref":3,"blue":0.964,"blue_lo":0.923,"blue_hi":0.988,"orange":0.961,"orange_lo":0.923,"orange_hi":0.991},
      {"sector":"U","pref":4,"blue":0.968,"blue_lo":0.936,"blue_hi":0.991,"orange":0.981,"orange_lo":0.949,"orange_hi":1.005},
      {"sector":"U","pref":5,"blue":0.979,"blue_lo":0.939,"blue_hi":1.025,"orange":0.951,"orange_lo":0.907,"orange_hi":0.988},
      {"sector":"U","pref":6,"blue":0.981,"blue_lo":0.943,"blue_hi":1.022,"orange":0.981,"orange_lo":0.943,"orange_hi":1.020},
      {"sector":"U","pref":7,"blue":0.976,"blue_lo":0.939,"blue_hi":1.001,"orange":0.941,"orange_lo":0.909,"orange_hi":0.980},
      {"sector":"U","pref":8,"blue":0.964,"blue_lo":0.936,"blue_hi":0.990,"orange":0.941,"orange_lo":0.915,"orange_hi":0.988},
      {"sector":"U","pref":9,"blue":0.963,"blue_lo":0.927,"blue_hi":0.995,"orange":0.971,"orange_lo":0.936,"orange_hi":1.005},
      {"sector":"U","pref":10,"blue":0.971,"blue_lo":0.934,"blue_hi":1.005,"orange":0.968,"orange_lo":0.934,"orange_hi":1.006},
      {"sector":"U","pref":11,"blue":0.968,"blue_lo":0.946,"blue_hi":0.990,"orange":0.968,"orange_lo":0.946,"orange_hi":0.990},
      {"sector":"U","pref":12,"blue":0.966,"blue_lo":0.941,"blue_hi":0.985,"orange":0.968,"orange_lo":0.936,"orange_hi":0.995},
      {"sector":"U","pref":13,"blue":0.957,"blue_lo":0.941,"blue_hi":0.980,"orange":0.941,"orange_lo":0.926,"orange_hi":0.962},
      {"sector":"U","pref":14,"blue":0.968,"blue_lo":0.949,"blue_hi":0.990,"orange":0.981,"orange_lo":0.953,"orange_hi":1.005},
      {"sector":"U","pref":15,"blue":0.968,"blue_lo":0.936,"blue_hi":0.997,"orange":0.979,"orange_lo":0.949,"orange_hi":1.008},
      {"sector":"U","pref":16,"blue":0.978,"blue_lo":0.934,"blue_hi":1.018,"orange":0.974,"orange_lo":0.936,"orange_hi":1.005},
      {"sector":"U","pref":17,"blue":0.956,"blue_lo":0.909,"blue_hi":0.990,"orange":0.968,"orange_lo":0.934,"orange_hi":1.000},
      {"sector":"U","pref":18,"blue":0.956,"blue_lo":0.907,"blue_hi":1.025,"orange":1.005,"orange_lo":0.951,"orange_hi":1.055},
      {"sector":"U","pref":19,"blue":0.981,"blue_lo":0.946,"blue_hi":1.011,"orange":0.981,"orange_lo":0.946,"orange_hi":1.015},
      {"sector":"U","pref":20,"blue":0.981,"blue_lo":0.946,"blue_hi":1.008,"orange":0.984,"orange_lo":0.946,"orange_hi":1.018},
      {"sector":"U","pref":21,"blue":0.966,"blue_lo":0.939,"blue_hi":0.995,"orange":0.974,"orange_lo":0.939,"orange_hi":1.008},
      {"sector":"U","pref":22,"blue":0.984,"blue_lo":0.953,"blue_hi":1.011,"orange":0.981,"orange_lo":0.951,"orange_hi":1.005},
      {"sector":"U","pref":23,"blue":0.979,"blue_lo":0.953,"blue_hi":1.001,"orange":0.976,"orange_lo":0.941,"orange_hi":1.008},
      {"sector":"U","pref":24,"blue":0.964,"blue_lo":0.934,"blue_hi":0.991,"orange":0.968,"orange_lo":0.941,"orange_hi":0.995},
      {"sector":"U","pref":25,"blue":0.984,"blue_lo":0.941,"blue_hi":1.025,"orange":0.968,"orange_lo":0.932,"orange_hi":1.001},
      {"sector":"U","pref":26,"blue":0.968,"blue_lo":0.941,"blue_hi":0.997,"orange":0.947,"orange_lo":0.920,"orange_hi":0.974},
      {"sector":"U","pref":27,"blue":0.971,"blue_lo":0.941,"blue_hi":0.997,"orange":0.936,"orange_lo":0.920,"orange_hi":0.953},
      {"sector":"U","pref":28,"blue":0.964,"blue_lo":0.941,"blue_hi":0.985,"orange":0.947,"orange_lo":0.926,"orange_hi":0.970},
      {"sector":"U","pref":29,"blue":0.988,"blue_lo":0.941,"blue_hi":1.032,"orange":0.974,"orange_lo":0.934,"orange_hi":1.008},
      {"sector":"U","pref":30,"blue":0.972,"blue_lo":0.926,"blue_hi":1.019,"orange":0.963,"orange_lo":0.915,"orange_hi":0.995},
      {"sector":"U","pref":31,"blue":0.978,"blue_lo":0.912,"blue_hi":1.034,"orange":0.968,"orange_lo":0.912,"orange_hi":1.011},
      {"sector":"U","pref":32,"blue":0.984,"blue_lo":0.934,"blue_hi":1.032,"orange":0.978,"orange_lo":0.934,"orange_hi":1.018},
      {"sector":"U","pref":33,"blue":0.972,"blue_lo":0.934,"blue_hi":1.008,"orange":0.968,"orange_lo":0.926,"orange_hi":1.005},
      {"sector":"U","pref":34,"blue":0.944,"blue_lo":0.918,"blue_hi":0.970,"orange":0.974,"orange_lo":0.949,"orange_hi":0.997},
      {"sector":"U","pref":35,"blue":0.976,"blue_lo":0.920,"blue_hi":1.015,"orange":0.974,"orange_lo":0.936,"orange_hi":1.015},
      {"sector":"U","pref":36,"blue":0.974,"blue_lo":0.926,"blue_hi":1.018,"orange":0.974,"orange_lo":0.926,"orange_hi":1.018},
      {"sector":"U","pref":37,"blue":0.974,"blue_lo":0.926,"blue_hi":1.022,"orange":0.978,"orange_lo":0.926,"orange_hi":1.025},
      {"sector":"U","pref":38,"blue":0.968,"blue_lo":0.920,"blue_hi":1.011,"orange":0.968,"orange_lo":0.926,"orange_hi":1.005},
      {"sector":"U","pref":39,"blue":0.964,"blue_lo":0.920,"blue_hi":1.001,"orange":1.001,"orange_lo":0.949,"orange_hi":1.049},
      {"sector":"U","pref":40,"blue":0.934,"blue_lo":0.915,"blue_hi":0.955,"orange":0.988,"orange_lo":0.949,"orange_hi":1.015},
      {"sector":"U","pref":41,"blue":0.961,"blue_lo":0.912,"blue_hi":1.001,"orange":0.972,"orange_lo":0.936,"orange_hi":1.005},
      {"sector":"U","pref":42,"blue":0.976,"blue_lo":0.936,"blue_hi":1.015,"orange":0.910,"orange_lo":0.876,"orange_hi":0.945},
      {"sector":"U","pref":43,"blue":0.966,"blue_lo":0.934,"blue_hi":0.997,"orange":1.003,"orange_lo":0.965,"orange_hi":1.040},
      {"sector":"U","pref":44,"blue":0.974,"blue_lo":0.930,"blue_hi":1.018,"orange":0.958,"orange_lo":0.930,"orange_hi":0.990},
      {"sector":"U","pref":45,"blue":0.974,"blue_lo":0.932,"blue_hi":1.020,"orange":1.013,"orange_lo":0.970,"orange_hi":1.060},
      {"sector":"U","pref":46,"blue":0.990,"blue_lo":0.970,"blue_hi":1.003,"orange":0.975,"orange_lo":0.945,"orange_hi":1.000},
      {"sector":"U","pref":47,"blue":0.978,"blue_lo":0.950,"blue_hi":1.005,"orange":0.970,"orange_lo":0.940,"orange_hi":1.000},

      {"sector":"X","pref":1,"blue":0.946,"blue_lo":0.925,"blue_hi":0.969,"orange":0.971,"orange_lo":0.946,"orange_hi":0.993},
      {"sector":"X","pref":2,"blue":0.958,"blue_lo":0.918,"blue_hi":1.000,"orange":0.971,"orange_lo":0.918,"orange_hi":1.014},
      {"sector":"X","pref":3,"blue":0.952,"blue_lo":0.909,"blue_hi":0.993,"orange":0.952,"orange_lo":0.905,"orange_hi":0.997},
      {"sector":"X","pref":4,"blue":0.939,"blue_lo":0.905,"blue_hi":0.973,"orange":0.961,"orange_lo":0.925,"orange_hi":0.997},
      {"sector":"X","pref":5,"blue":0.966,"blue_lo":0.918,"blue_hi":1.014,"orange":0.946,"orange_lo":0.895,"orange_hi":0.990},
      {"sector":"X","pref":6,"blue":0.967,"blue_lo":0.925,"blue_hi":1.014,"orange":0.980,"orange_lo":0.925,"orange_hi":1.024},
      {"sector":"X","pref":7,"blue":0.974,"blue_lo":0.935,"blue_hi":1.010,"orange":0.956,"orange_lo":0.901,"orange_hi":0.990},
      {"sector":"X","pref":8,"blue":0.971,"blue_lo":0.939,"blue_hi":1.003,"orange":0.905,"orange_lo":0.874,"orange_hi":0.929},
      {"sector":"X","pref":9,"blue":0.974,"blue_lo":0.939,"blue_hi":1.014,"orange":0.958,"orange_lo":0.920,"orange_hi":0.986},
      {"sector":"X","pref":10,"blue":0.966,"blue_lo":0.929,"blue_hi":1.000,"orange":0.958,"orange_lo":0.920,"orange_hi":0.993},
      {"sector":"X","pref":11,"blue":0.942,"blue_lo":0.915,"blue_hi":0.973,"orange":0.951,"orange_lo":0.920,"orange_hi":0.980},
      {"sector":"X","pref":12,"blue":0.942,"blue_lo":0.912,"blue_hi":0.969,"orange":0.959,"orange_lo":0.925,"orange_hi":0.986},
      {"sector":"X","pref":13,"blue":0.931,"blue_lo":0.912,"blue_hi":0.950,"orange":0.924,"orange_lo":0.901,"orange_hi":0.946},
      {"sector":"X","pref":14,"blue":0.935,"blue_lo":0.912,"blue_hi":0.959,"orange":0.978,"orange_lo":0.952,"orange_hi":0.997},
      {"sector":"X","pref":15,"blue":0.949,"blue_lo":0.918,"blue_hi":0.980,"orange":0.971,"orange_lo":0.946,"orange_hi":0.997},
      {"sector":"X","pref":16,"blue":0.976,"blue_lo":0.929,"blue_hi":1.022,"orange":0.973,"orange_lo":0.932,"orange_hi":1.007},
      {"sector":"X","pref":17,"blue":0.969,"blue_lo":0.918,"blue_hi":1.010,"orange":0.965,"orange_lo":0.929,"orange_hi":1.000},
      {"sector":"X","pref":18,"blue":0.935,"blue_lo":0.891,"blue_hi":0.976,"orange":1.000,"orange_lo":0.952,"orange_hi":1.051},
      {"sector":"X","pref":19,"blue":0.973,"blue_lo":0.929,"blue_hi":1.014,"orange":0.971,"orange_lo":0.925,"orange_hi":1.024},
      {"sector":"X","pref":20,"blue":0.963,"blue_lo":0.932,"blue_hi":0.993,"orange":0.986,"orange_lo":0.946,"orange_hi":1.020},
      {"sector":"X","pref":21,"blue":0.940,"blue_lo":0.905,"blue_hi":0.963,"orange":0.956,"orange_lo":0.922,"orange_hi":0.990},
      {"sector":"X","pref":22,"blue":0.974,"blue_lo":0.939,"blue_hi":1.003,"orange":0.967,"orange_lo":0.939,"orange_hi":0.993},
      {"sector":"X","pref":23,"blue":0.961,"blue_lo":0.935,"blue_hi":0.980,"orange":0.958,"orange_lo":0.925,"orange_hi":0.990},
      {"sector":"X","pref":24,"blue":0.946,"blue_lo":0.918,"blue_hi":0.973,"orange":0.956,"orange_lo":0.918,"orange_hi":0.993},
      {"sector":"X","pref":25,"blue":0.978,"blue_lo":0.929,"blue_hi":1.031,"orange":0.956,"orange_lo":0.905,"orange_hi":0.997},
      {"sector":"X","pref":26,"blue":0.956,"blue_lo":0.925,"blue_hi":0.986,"orange":0.956,"orange_lo":0.912,"orange_hi":0.993},
      {"sector":"X","pref":27,"blue":0.958,"blue_lo":0.935,"blue_hi":0.976,"orange":0.906,"orange_lo":0.884,"orange_hi":0.929},
      {"sector":"X","pref":28,"blue":0.939,"blue_lo":0.912,"blue_hi":0.963,"orange":0.940,"orange_lo":0.914,"orange_hi":0.966},
      {"sector":"X","pref":29,"blue":0.986,"blue_lo":0.929,"blue_hi":1.041,"orange":0.946,"orange_lo":0.895,"orange_hi":0.986},
      {"sector":"X","pref":30,"blue":0.971,"blue_lo":0.918,"blue_hi":1.020,"orange":0.967,"orange_lo":0.922,"orange_hi":1.007},
      {"sector":"X","pref":31,"blue":0.967,"blue_lo":0.912,"blue_hi":1.027,"orange":0.942,"orange_lo":0.888,"orange_hi":0.993},
      {"sector":"X","pref":32,"blue":0.967,"blue_lo":0.912,"blue_hi":1.017,"orange":0.969,"orange_lo":0.922,"orange_hi":1.007},
      {"sector":"X","pref":33,"blue":0.971,"blue_lo":0.918,"blue_hi":1.017,"orange":0.951,"orange_lo":0.905,"orange_hi":0.990},
      {"sector":"X","pref":34,"blue":0.942,"blue_lo":0.912,"blue_hi":0.973,"orange":0.958,"orange_lo":0.912,"orange_hi":0.986},
      {"sector":"X","pref":35,"blue":0.958,"blue_lo":0.912,"blue_hi":1.007,"orange":0.963,"orange_lo":0.920,"orange_hi":1.000},
      {"sector":"X","pref":36,"blue":0.966,"blue_lo":0.918,"blue_hi":1.027,"orange":0.969,"orange_lo":0.912,"orange_hi":1.020},
      {"sector":"X","pref":37,"blue":0.973,"blue_lo":0.922,"blue_hi":1.027,"orange":0.973,"orange_lo":0.918,"orange_hi":1.024},
      {"sector":"X","pref":38,"blue":0.963,"blue_lo":0.918,"blue_hi":1.000,"orange":0.963,"orange_lo":0.915,"orange_hi":1.000},
      {"sector":"X","pref":39,"blue":0.935,"blue_lo":0.884,"blue_hi":0.986,"orange":1.000,"orange_lo":0.932,"orange_hi":1.058},
      {"sector":"X","pref":40,"blue":0.929,"blue_lo":0.895,"blue_hi":0.963,"orange":0.956,"orange_lo":0.915,"orange_hi":0.986},
      {"sector":"X","pref":41,"blue":0.932,"blue_lo":0.884,"blue_hi":0.986,"orange":0.942,"orange_lo":0.893,"orange_hi":0.986},
      {"sector":"X","pref":42,"blue":0.966,"blue_lo":0.918,"blue_hi":1.010,"orange":0.946,"orange_lo":0.901,"orange_hi":0.986},
      {"sector":"X","pref":43,"blue":0.942,"blue_lo":0.905,"blue_hi":0.980,"orange":1.000,"orange_lo":0.939,"orange_hi":1.044},
      {"sector":"X","pref":44,"blue":0.978,"blue_lo":0.925,"blue_hi":1.020,"orange":0.939,"orange_lo":0.897,"orange_hi":0.980},
      {"sector":"X","pref":45,"blue":0.980,"blue_lo":0.929,"blue_hi":1.027,"orange":0.981,"orange_lo":0.929,"orange_hi":1.024},
      {"sector":"X","pref":46,"blue":0.980,"blue_lo":0.925,"blue_hi":1.020,"orange":0.963,"orange_lo":0.925,"orange_hi":0.993},
      {"sector":"X","pref":47,"blue":0.978,"blue_lo":0.925,"blue_hi":1.020,"orange":0.950,"orange_lo":0.905,"orange_hi":0.990}
    ]
  },
  "vconcat": [
    {
      "title": "B (Restaurants)",
      "width": 526, "height": 97,
      "resolve": {"axis": {"x": "independent"}},
      "layer": [
        {"data": {"name": "odd"}, "mark": {"type": "rule", "color": "#d3d3d3", "strokeWidth": 1.8},
         "encoding": {"x": {"field": "pref", "type": "quantitative", "scale": {"domain": [0.66, 46.66], "nice": false, "zero": false}, "axis": {"orient": "top", "labels": false, "ticks": false, "title": null}}}},
        {"data": {"name": "ref"}, "mark": {"type": "rule", "color": "#cccccc", "strokeWidth": 2.5},
         "encoding": {"y": {"field": "ratio", "type": "quantitative", "title": "Ratio", "scale": {"domain": [0.852, 1.047], "nice": false, "zero": false}, "axis": {"values": [0.9, 1.0]}}}},
        {"data": {"name": "stats"}, "transform": [{"filter": "datum.sector === 'B'"}], "mark": {"type": "rule", "color": "#0000ff", "strokeWidth": 2.6, "clip": true},
         "encoding": {"x": {"field": "pref", "type": "quantitative", "scale": {"domain": [0.66, 46.66], "nice": false, "zero": false}, "axis": {"orient": "bottom", "values": [5,10,15,20,25,30,35,40,45], "labels": false, "title": null}},
                      "y": {"field": "blue_lo", "type": "quantitative", "title": "Ratio", "scale": {"domain": [0.852, 1.047], "nice": false, "zero": false}}, "y2": {"field": "blue_hi"}}},
        {"data": {"name": "stats"}, "transform": [{"filter": "datum.sector === 'B'"}], "mark": {"type": "line", "color": "#0000ff", "strokeWidth": 2, "clip": true},
         "encoding": {"x": {"field": "pref", "type": "quantitative", "axis": null}, "y": {"field": "blue", "type": "quantitative", "title": "Ratio"}}},
        {"data": {"name": "stats"}, "transform": [{"filter": "datum.sector === 'B'"}], "mark": {"type": "rule", "color": "#ffa500", "strokeWidth": 2.6, "clip": true},
         "encoding": {"x": {"field": "pref", "type": "quantitative", "axis": null}, "y": {"field": "orange_lo", "type": "quantitative", "title": "Ratio"}, "y2": {"field": "orange_hi"}}},
        {"data": {"name": "stats"}, "transform": [{"filter": "datum.sector === 'B'"}], "mark": {"type": "line", "color": "#ffa500", "strokeWidth": 2, "clip": true},
         "encoding": {"x": {"field": "pref", "type": "quantitative", "axis": null}, "y": {"field": "orange", "type": "quantitative", "title": "Ratio"}}},
        {"data": {"name": "leaders"}, "transform": [{"filter": "datum.sector === 'B'"}], "mark": {"type": "rule", "color": "#ff0000", "strokeWidth": 1.3},
         "encoding": {"x": {"field": "x", "type": "quantitative", "axis": null}, "y": {"field": "y", "type": "quantitative", "title": "Ratio"}, "x2": {"field": "x2"}, "y2": {"field": "y2"}}},
        {"data": {"name": "tips"}, "transform": [{"filter": "datum.sector === 'B'"}], "mark": {"type": "point", "shape": "M-0.8,-1.6L0,0L0.8,-1.6", "filled": false, "color": "#ff0000", "strokeWidth": 1.3, "size": 30, "opacity": 1},
         "encoding": {"x": {"field": "x", "type": "quantitative", "axis": null}, "y": {"field": "y", "type": "quantitative", "title": "Ratio"}}},
        {"data": {"name": "notes"}, "transform": [{"filter": "datum.sector === 'B'"}], "mark": {"type": "text", "color": "#ff0000", "fontSize": 17, "font": "DejaVu Sans", "align": "center", "baseline": "alphabetic"},
         "encoding": {"x": {"field": "x", "type": "quantitative", "axis": null}, "y": {"field": "y", "type": "quantitative", "title": "Ratio"}, "text": {"field": "label"}}}
      ]
    },
    {
      "title": "P (Services (beauty and fashion))",
      "width": 526, "height": 97,
      "resolve": {"axis": {"x": "independent"}},
      "layer": [
        {"data": {"name": "odd"}, "mark": {"type": "rule", "color": "#d3d3d3", "strokeWidth": 1.8},
         "encoding": {"x": {"field": "pref", "type": "quantitative", "scale": {"domain": [0.66, 46.66], "nice": false, "zero": false}, "axis": {"orient": "top", "labels": false, "ticks": false, "title": null}}}},
        {"data": {"name": "ref"}, "mark": {"type": "rule", "color": "#cccccc", "strokeWidth": 2.5},
         "encoding": {"y": {"field": "ratio", "type": "quantitative", "title": "Ratio", "scale": {"domain": [0.865, 1.067], "nice": false, "zero": false}, "axis": {"values": [0.9, 1.0]}}}},
        {"data": {"name": "stats"}, "transform": [{"filter": "datum.sector === 'P'"}], "mark": {"type": "rule", "color": "#0000ff", "strokeWidth": 2.6, "clip": true},
         "encoding": {"x": {"field": "pref", "type": "quantitative", "scale": {"domain": [0.66, 46.66], "nice": false, "zero": false}, "axis": {"orient": "bottom", "values": [5,10,15,20,25,30,35,40,45], "labels": false, "title": null}},
                      "y": {"field": "blue_lo", "type": "quantitative", "title": "Ratio", "scale": {"domain": [0.865, 1.067], "nice": false, "zero": false}}, "y2": {"field": "blue_hi"}}},
        {"data": {"name": "stats"}, "transform": [{"filter": "datum.sector === 'P'"}], "mark": {"type": "line", "color": "#0000ff", "strokeWidth": 2, "clip": true},
         "encoding": {"x": {"field": "pref", "type": "quantitative", "axis": null}, "y": {"field": "blue", "type": "quantitative", "title": "Ratio"}}},
        {"data": {"name": "stats"}, "transform": [{"filter": "datum.sector === 'P'"}], "mark": {"type": "rule", "color": "#ffa500", "strokeWidth": 2.6, "clip": true},
         "encoding": {"x": {"field": "pref", "type": "quantitative", "axis": null}, "y": {"field": "orange_lo", "type": "quantitative", "title": "Ratio"}, "y2": {"field": "orange_hi"}}},
        {"data": {"name": "stats"}, "transform": [{"filter": "datum.sector === 'P'"}], "mark": {"type": "line", "color": "#ffa500", "strokeWidth": 2, "clip": true},
         "encoding": {"x": {"field": "pref", "type": "quantitative", "axis": null}, "y": {"field": "orange", "type": "quantitative", "title": "Ratio"}}},
        {"data": {"name": "leaders"}, "transform": [{"filter": "datum.sector === 'P'"}], "mark": {"type": "rule", "color": "#ff0000", "strokeWidth": 1.3},
         "encoding": {"x": {"field": "x", "type": "quantitative", "axis": null}, "y": {"field": "y", "type": "quantitative", "title": "Ratio"}, "x2": {"field": "x2"}, "y2": {"field": "y2"}}},
        {"data": {"name": "tips"}, "transform": [{"filter": "datum.sector === 'P'"}], "mark": {"type": "point", "shape": "M-0.8,-1.6L0,0L0.8,-1.6", "filled": false, "color": "#ff0000", "strokeWidth": 1.3, "size": 30, "opacity": 1},
         "encoding": {"x": {"field": "x", "type": "quantitative", "axis": null}, "y": {"field": "y", "type": "quantitative", "title": "Ratio"}}},
        {"data": {"name": "notes"}, "transform": [{"filter": "datum.sector === 'P'"}], "mark": {"type": "text", "color": "#ff0000", "fontSize": 17, "font": "DejaVu Sans", "align": "center", "baseline": "alphabetic"},
         "encoding": {"x": {"field": "x", "type": "quantitative", "axis": null}, "y": {"field": "y", "type": "quantitative", "title": "Ratio"}, "text": {"field": "label"}}}
      ]
    },
    {
      "title": "Q (Services (living))",
      "width": 526, "height": 97,
      "resolve": {"axis": {"x": "independent"}},
      "layer": [
        {"data": {"name": "odd"}, "mark": {"type": "rule", "color": "#d3d3d3", "strokeWidth": 1.8},
         "encoding": {"x": {"field": "pref", "type": "quantitative", "scale": {"domain": [0.66, 46.66], "nice": false, "zero": false}, "axis": {"orient": "top", "labels": false, "ticks": false, "title": null}}}},
        {"data": {"name": "ref"}, "mark": {"type": "rule", "color": "#cccccc", "strokeWidth": 2.5},
         "encoding": {"y": {"field": "ratio", "type": "quantitative", "title": "Ratio", "scale": {"domain": [0.799, 1.124], "nice": false, "zero": false}, "axis": {"values": [0.8, 1.0]}}}},
        {"data": {"name": "stats"}, "transform": [{"filter": "datum.sector === 'Q'"}], "mark": {"type": "rule", "color": "#0000ff", "strokeWidth": 2.6, "clip": true},
         "encoding": {"x": {"field": "pref", "type": "quantitative", "scale": {"domain": [0.66, 46.66], "nice": false, "zero": false}, "axis": {"orient": "bottom", "values": [5,10,15,20,25,30,35,40,45], "labels": false, "title": null}},
                      "y": {"field": "blue_lo", "type": "quantitative", "title": "Ratio", "scale": {"domain": [0.799, 1.124], "nice": false, "zero": false}}, "y2": {"field": "blue_hi"}}},
        {"data": {"name": "stats"}, "transform": [{"filter": "datum.sector === 'Q'"}], "mark": {"type": "line", "color": "#0000ff", "strokeWidth": 2, "clip": true},
         "encoding": {"x": {"field": "pref", "type": "quantitative", "axis": null}, "y": {"field": "blue", "type": "quantitative", "title": "Ratio"}}},
        {"data": {"name": "stats"}, "transform": [{"filter": "datum.sector === 'Q'"}], "mark": {"type": "rule", "color": "#ffa500", "strokeWidth": 2.6, "clip": true},
         "encoding": {"x": {"field": "pref", "type": "quantitative", "axis": null}, "y": {"field": "orange_lo", "type": "quantitative", "title": "Ratio"}, "y2": {"field": "orange_hi"}}},
        {"data": {"name": "stats"}, "transform": [{"filter": "datum.sector === 'Q'"}], "mark": {"type": "line", "color": "#ffa500", "strokeWidth": 2, "clip": true},
         "encoding": {"x": {"field": "pref", "type": "quantitative", "axis": null}, "y": {"field": "orange", "type": "quantitative", "title": "Ratio"}}},
        {"data": {"name": "leaders"}, "transform": [{"filter": "datum.sector === 'Q'"}], "mark": {"type": "rule", "color": "#ff0000", "strokeWidth": 1.3},
         "encoding": {"x": {"field": "x", "type": "quantitative", "axis": null}, "y": {"field": "y", "type": "quantitative", "title": "Ratio"}, "x2": {"field": "x2"}, "y2": {"field": "y2"}}},
        {"data": {"name": "tips"}, "transform": [{"filter": "datum.sector === 'Q'"}], "mark": {"type": "point", "shape": "M-0.8,-1.6L0,0L0.8,-1.6", "filled": false, "color": "#ff0000", "strokeWidth": 1.3, "size": 30, "opacity": 1},
         "encoding": {"x": {"field": "x", "type": "quantitative", "axis": null}, "y": {"field": "y", "type": "quantitative", "title": "Ratio"}}},
        {"data": {"name": "notes"}, "transform": [{"filter": "datum.sector === 'Q'"}], "mark": {"type": "text", "color": "#ff0000", "fontSize": 17, "font": "DejaVu Sans", "align": "center", "baseline": "alphabetic"},
         "encoding": {"x": {"field": "x", "type": "quantitative", "axis": null}, "y": {"field": "y", "type": "quantitative", "title": "Ratio"}, "text": {"field": "label"}}}
      ]
    },
    {
      "title": "R (Services (others))",
      "width": 526, "height": 97,
      "resolve": {"axis": {"x": "independent"}},
      "layer": [
        {"data": {"name": "odd"}, "mark": {"type": "rule", "color": "#d3d3d3", "strokeWidth": 1.8},
         "encoding": {"x": {"field": "pref", "type": "quantitative", "scale": {"domain": [0.66, 46.66], "nice": false, "zero": false}, "axis": {"orient": "top", "labels": false, "ticks": false, "title": null}}}},
        {"data": {"name": "ref"}, "mark": {"type": "rule", "color": "#cccccc", "strokeWidth": 2.5},
         "encoding": {"y": {"field": "ratio", "type": "quantitative", "title": "Ratio", "scale": {"domain": [0.860, 1.085], "nice": false, "zero": false}, "axis": {"values": [0.9, 1.0]}}}},
        {"data": {"name": "stats"}, "transform": [{"filter": "datum.sector === 'R'"}], "mark": {"type": "rule", "color": "#0000ff", "strokeWidth": 2.6, "clip": true},
         "encoding": {"x": {"field": "pref", "type": "quantitative", "scale": {"domain": [0.66, 46.66], "nice": false, "zero": false}, "axis": {"orient": "bottom", "values": [5,10,15,20,25,30,35,40,45], "labels": false, "title": null}},
                      "y": {"field": "blue_lo", "type": "quantitative", "title": "Ratio", "scale": {"domain": [0.860, 1.085], "nice": false, "zero": false}}, "y2": {"field": "blue_hi"}}},
        {"data": {"name": "stats"}, "transform": [{"filter": "datum.sector === 'R'"}], "mark": {"type": "line", "color": "#0000ff", "strokeWidth": 2, "clip": true},
         "encoding": {"x": {"field": "pref", "type": "quantitative", "axis": null}, "y": {"field": "blue", "type": "quantitative", "title": "Ratio"}}},
        {"data": {"name": "stats"}, "transform": [{"filter": "datum.sector === 'R'"}], "mark": {"type": "rule", "color": "#ffa500", "strokeWidth": 2.6, "clip": true},
         "encoding": {"x": {"field": "pref", "type": "quantitative", "axis": null}, "y": {"field": "orange_lo", "type": "quantitative", "title": "Ratio"}, "y2": {"field": "orange_hi"}}},
        {"data": {"name": "stats"}, "transform": [{"filter": "datum.sector === 'R'"}], "mark": {"type": "line", "color": "#ffa500", "strokeWidth": 2, "clip": true},
         "encoding": {"x": {"field": "pref", "type": "quantitative", "axis": null}, "y": {"field": "orange", "type": "quantitative", "title": "Ratio"}}},
        {"data": {"name": "leaders"}, "transform": [{"filter": "datum.sector === 'R'"}], "mark": {"type": "rule", "color": "#ff0000", "strokeWidth": 1.3},
         "encoding": {"x": {"field": "x", "type": "quantitative", "axis": null}, "y": {"field": "y", "type": "quantitative", "title": "Ratio"}, "x2": {"field": "x2"}, "y2": {"field": "y2"}}},
        {"data": {"name": "tips"}, "transform": [{"filter": "datum.sector === 'R'"}], "mark": {"type": "point", "shape": "M-0.8,-1.6L0,0L0.8,-1.6", "filled": false, "color": "#ff0000", "strokeWidth": 1.3, "size": 30, "opacity": 1},
         "encoding": {"x": {"field": "x", "type": "quantitative", "axis": null}, "y": {"field": "y", "type": "quantitative", "title": "Ratio"}}},
        {"data": {"name": "notes"}, "transform": [{"filter": "datum.sector === 'R'"}], "mark": {"type": "text", "color": "#ff0000", "fontSize": 17, "font": "DejaVu Sans", "align": "center", "baseline": "alphabetic"},
         "encoding": {"x": {"field": "x", "type": "quantitative", "axis": null}, "y": {"field": "y", "type": "quantitative", "title": "Ratio"}, "text": {"field": "label"}}}
      ]
    },
    {
      "title": "S (Sports and leisure)",
      "width": 526, "height": 97,
      "resolve": {"axis": {"x": "independent"}},
      "layer": [
        {"data": {"name": "odd"}, "mark": {"type": "rule", "color": "#d3d3d3", "strokeWidth": 1.8},
         "encoding": {"x": {"field": "pref", "type": "quantitative", "scale": {"domain": [0.66, 46.66], "nice": false, "zero": false}, "axis": {"orient": "top", "labels": false, "ticks": false, "title": null}}}},
        {"data": {"name": "ref"}, "mark": {"type": "rule", "color": "#cccccc", "strokeWidth": 2.5},
         "encoding": {"y": {"field": "ratio", "type": "quantitative", "title": "Ratio", "scale": {"domain": [0.851, 1.085], "nice": false, "zero": false}, "axis": {"values": [0.9, 1.0]}}}},
        {"data": {"name": "stats"}, "transform": [{"filter": "datum.sector === 'S'"}], "mark": {"type": "rule", "color": "#0000ff", "strokeWidth": 2.6, "clip": true},
         "encoding": {"x": {"field": "pref", "type": "quantitative", "scale": {"domain": [0.66, 46.66], "nice": false, "zero": false}, "axis": {"orient": "bottom", "values": [5,10,15,20,25,30,35,40,45], "labels": false, "title": null}},
                      "y": {"field": "blue_lo", "type": "quantitative", "title": "Ratio", "scale": {"domain": [0.851, 1.085], "nice": false, "zero": false}}, "y2": {"field": "blue_hi"}}},
        {"data": {"name": "stats"}, "transform": [{"filter": "datum.sector === 'S'"}], "mark": {"type": "line", "color": "#0000ff", "strokeWidth": 2, "clip": true},
         "encoding": {"x": {"field": "pref", "type": "quantitative", "axis": null}, "y": {"field": "blue", "type": "quantitative", "title": "Ratio"}}},
        {"data": {"name": "stats"}, "transform": [{"filter": "datum.sector === 'S'"}], "mark": {"type": "rule", "color": "#ffa500", "strokeWidth": 2.6, "clip": true},
         "encoding": {"x": {"field": "pref", "type": "quantitative", "axis": null}, "y": {"field": "orange_lo", "type": "quantitative", "title": "Ratio"}, "y2": {"field": "orange_hi"}}},
        {"data": {"name": "stats"}, "transform": [{"filter": "datum.sector === 'S'"}], "mark": {"type": "line", "color": "#ffa500", "strokeWidth": 2, "clip": true},
         "encoding": {"x": {"field": "pref", "type": "quantitative", "axis": null}, "y": {"field": "orange", "type": "quantitative", "title": "Ratio"}}},
        {"data": {"name": "leaders"}, "transform": [{"filter": "datum.sector === 'S'"}], "mark": {"type": "rule", "color": "#ff0000", "strokeWidth": 1.3},
         "encoding": {"x": {"field": "x", "type": "quantitative", "axis": null}, "y": {"field": "y", "type": "quantitative", "title": "Ratio"}, "x2": {"field": "x2"}, "y2": {"field": "y2"}}},
        {"data": {"name": "tips"}, "transform": [{"filter": "datum.sector === 'S'"}], "mark": {"type": "point", "shape": "M-0.8,-1.6L0,0L0.8,-1.6", "filled": false, "color": "#ff0000", "strokeWidth": 1.3, "size": 30, "opacity": 1},
         "encoding": {"x": {"field": "x", "type": "quantitative", "axis": null}, "y": {"field": "y", "type": "quantitative", "title": "Ratio"}}},
        {"data": {"name": "notes"}, "transform": [{"filter": "datum.sector === 'S'"}], "mark": {"type": "text", "color": "#ff0000", "fontSize": 17, "font": "DejaVu Sans", "align": "center", "baseline": "alphabetic"},
         "encoding": {"x": {"field": "x", "type": "quantitative", "axis": null}, "y": {"field": "y", "type": "quantitative", "title": "Ratio"}, "text": {"field": "label"}}}
      ]
    },
    {
      "title": "T (Travel)",
      "width": 526, "height": 97,
      "resolve": {"axis": {"x": "independent"}},
      "layer": [
        {"data": {"name": "odd"}, "mark": {"type": "rule", "color": "#d3d3d3", "strokeWidth": 1.8},
         "encoding": {"x": {"field": "pref", "type": "quantitative", "scale": {"domain": [0.66, 46.66], "nice": false, "zero": false}, "axis": {"orient": "top", "labels": false, "ticks": false, "title": null}}}},
        {"data": {"name": "ref"}, "mark": {"type": "rule", "color": "#cccccc", "strokeWidth": 2.5},
         "encoding": {"y": {"field": "ratio", "type": "quantitative", "title": "Ratio", "scale": {"domain": [0.819, 1.088], "nice": false, "zero": false}, "axis": {"values": [0.9, 1.0]}}}},
        {"data": {"name": "stats"}, "transform": [{"filter": "datum.sector === 'T'"}], "mark": {"type": "rule", "color": "#0000ff", "strokeWidth": 2.6, "clip": true},
         "encoding": {"x": {"field": "pref", "type": "quantitative", "scale": {"domain": [0.66, 46.66], "nice": false, "zero": false}, "axis": {"orient": "bottom", "values": [5,10,15,20,25,30,35,40,45], "labels": false, "title": null}},
                      "y": {"field": "blue_lo", "type": "quantitative", "title": "Ratio", "scale": {"domain": [0.819, 1.088], "nice": false, "zero": false}}, "y2": {"field": "blue_hi"}}},
        {"data": {"name": "stats"}, "transform": [{"filter": "datum.sector === 'T'"}], "mark": {"type": "line", "color": "#0000ff", "strokeWidth": 2, "clip": true},
         "encoding": {"x": {"field": "pref", "type": "quantitative", "axis": null}, "y": {"field": "blue", "type": "quantitative", "title": "Ratio"}}},
        {"data": {"name": "stats"}, "transform": [{"filter": "datum.sector === 'T'"}], "mark": {"type": "rule", "color": "#ffa500", "strokeWidth": 2.6, "clip": true},
         "encoding": {"x": {"field": "pref", "type": "quantitative", "axis": null}, "y": {"field": "orange_lo", "type": "quantitative", "title": "Ratio"}, "y2": {"field": "orange_hi"}}},
        {"data": {"name": "stats"}, "transform": [{"filter": "datum.sector === 'T'"}], "mark": {"type": "line", "color": "#ffa500", "strokeWidth": 2, "clip": true},
         "encoding": {"x": {"field": "pref", "type": "quantitative", "axis": null}, "y": {"field": "orange", "type": "quantitative", "title": "Ratio"}}},
        {"data": {"name": "leaders"}, "transform": [{"filter": "datum.sector === 'T'"}], "mark": {"type": "rule", "color": "#ff0000", "strokeWidth": 1.3},
         "encoding": {"x": {"field": "x", "type": "quantitative", "axis": null}, "y": {"field": "y", "type": "quantitative", "title": "Ratio"}, "x2": {"field": "x2"}, "y2": {"field": "y2"}}},
        {"data": {"name": "tips"}, "transform": [{"filter": "datum.sector === 'T'"}], "mark": {"type": "point", "shape": "M-0.8,-1.6L0,0L0.8,-1.6", "filled": false, "color": "#ff0000", "strokeWidth": 1.3, "size": 30, "opacity": 1},
         "encoding": {"x": {"field": "x", "type": "quantitative", "axis": null}, "y": {"field": "y", "type": "quantitative", "title": "Ratio"}}},
        {"data": {"name": "notes"}, "transform": [{"filter": "datum.sector === 'T'"}], "mark": {"type": "text", "color": "#ff0000", "fontSize": 17, "font": "DejaVu Sans", "align": "center", "baseline": "alphabetic"},
         "encoding": {"x": {"field": "x", "type": "quantitative", "axis": null}, "y": {"field": "y", "type": "quantitative", "title": "Ratio"}, "text": {"field": "label"}}}
      ]
    },
    {
      "title": "U (Education and culture)",
      "width": 526, "height": 97,
      "resolve": {"axis": {"x": "independent"}},
      "layer": [
        {"data": {"name": "odd"}, "mark": {"type": "rule", "color": "#d3d3d3", "strokeWidth": 1.8},
         "encoding": {"x": {"field": "pref", "type": "quantitative", "scale": {"domain": [0.66, 46.66], "nice": false, "zero": false}, "axis": {"orient": "top", "labels": false, "ticks": false, "title": null}}}},
        {"data": {"name": "ref"}, "mark": {"type": "rule", "color": "#cccccc", "strokeWidth": 2.5},
         "encoding": {"y": {"field": "ratio", "type": "quantitative", "title": "Ratio", "scale": {"domain": [0.868, 1.065], "nice": false, "zero": false}, "axis": {"values": [0.9, 1.0]}}}},
        {"data": {"name": "stats"}, "transform": [{"filter": "datum.sector === 'U'"}], "mark": {"type": "rule", "color": "#0000ff", "strokeWidth": 2.6, "clip": true},
         "encoding": {"x": {"field": "pref", "type": "quantitative", "scale": {"domain": [0.66, 46.66], "nice": false, "zero": false}, "axis": {"orient": "bottom", "values": [5,10,15,20,25,30,35,40,45], "labels": false, "title": null}},
                      "y": {"field": "blue_lo", "type": "quantitative", "title": "Ratio", "scale": {"domain": [0.868, 1.065], "nice": false, "zero": false}}, "y2": {"field": "blue_hi"}}},
        {"data": {"name": "stats"}, "transform": [{"filter": "datum.sector === 'U'"}], "mark": {"type": "line", "color": "#0000ff", "strokeWidth": 2, "clip": true},
         "encoding": {"x": {"field": "pref", "type": "quantitative", "axis": null}, "y": {"field": "blue", "type": "quantitative", "title": "Ratio"}}},
        {"data": {"name": "stats"}, "transform": [{"filter": "datum.sector === 'U'"}], "mark": {"type": "rule", "color": "#ffa500", "strokeWidth": 2.6, "clip": true},
         "encoding": {"x": {"field": "pref", "type": "quantitative", "axis": null}, "y": {"field": "orange_lo", "type": "quantitative", "title": "Ratio"}, "y2": {"field": "orange_hi"}}},
        {"data": {"name": "stats"}, "transform": [{"filter": "datum.sector === 'U'"}], "mark": {"type": "line", "color": "#ffa500", "strokeWidth": 2, "clip": true},
         "encoding": {"x": {"field": "pref", "type": "quantitative", "axis": null}, "y": {"field": "orange", "type": "quantitative", "title": "Ratio"}}},
        {"data": {"name": "leaders"}, "transform": [{"filter": "datum.sector === 'U'"}], "mark": {"type": "rule", "color": "#ff0000", "strokeWidth": 1.3},
         "encoding": {"x": {"field": "x", "type": "quantitative", "axis": null}, "y": {"field": "y", "type": "quantitative", "title": "Ratio"}, "x2": {"field": "x2"}, "y2": {"field": "y2"}}},
        {"data": {"name": "tips"}, "transform": [{"filter": "datum.sector === 'U'"}], "mark": {"type": "point", "shape": "M-0.8,-1.6L0,0L0.8,-1.6", "filled": false, "color": "#ff0000", "strokeWidth": 1.3, "size": 30, "opacity": 1},
         "encoding": {"x": {"field": "x", "type": "quantitative", "axis": null}, "y": {"field": "y", "type": "quantitative", "title": "Ratio"}}},
        {"data": {"name": "notes"}, "transform": [{"filter": "datum.sector === 'U'"}], "mark": {"type": "text", "color": "#ff0000", "fontSize": 17, "font": "DejaVu Sans", "align": "center", "baseline": "alphabetic"},
         "encoding": {"x": {"field": "x", "type": "quantitative", "axis": null}, "y": {"field": "y", "type": "quantitative", "title": "Ratio"}, "text": {"field": "label"}}}
      ]
    },
    {
      "title": "X (Finance, publishing and infrastructure)",
      "width": 526, "height": 97,
      "resolve": {"axis": {"x": "independent"}},
      "layer": [
        {"data": {"name": "odd"}, "mark": {"type": "rule", "color": "#d3d3d3", "strokeWidth": 1.8},
         "encoding": {"x": {"field": "pref", "type": "quantitative", "scale": {"domain": [0.66, 46.66], "nice": false, "zero": false}, "axis": {"orient": "top", "labels": false, "ticks": false, "title": null}}}},
        {"data": {"name": "ref"}, "mark": {"type": "rule", "color": "#cccccc", "strokeWidth": 2.5},
         "encoding": {"y": {"field": "ratio", "type": "quantitative", "title": "Ratio", "scale": {"domain": [0.866, 1.063], "nice": false, "zero": false}, "axis": {"values": [0.9, 1.0]}}}},
        {"data": {"name": "stats"}, "transform": [{"filter": "datum.sector === 'X'"}], "mark": {"type": "rule", "color": "#0000ff", "strokeWidth": 2.6, "clip": true},
         "encoding": {"x": {"field": "pref", "type": "quantitative", "scale": {"domain": [0.66, 46.66], "nice": false, "zero": false}, "axis": {"orient": "bottom", "values": [5,10,15,20,25,30,35,40,45], "title": "Prefecture", "labelPadding": 3, "titlePadding": 2}},
                      "y": {"field": "blue_lo", "type": "quantitative", "title": "Ratio", "scale": {"domain": [0.866, 1.063], "nice": false, "zero": false}}, "y2": {"field": "blue_hi"}}},
        {"data": {"name": "stats"}, "transform": [{"filter": "datum.sector === 'X'"}], "mark": {"type": "line", "color": "#0000ff", "strokeWidth": 2, "clip": true},
         "encoding": {"x": {"field": "pref", "type": "quantitative", "axis": null}, "y": {"field": "blue", "type": "quantitative", "title": "Ratio"}}},
        {"data": {"name": "stats"}, "transform": [{"filter": "datum.sector === 'X'"}], "mark": {"type": "rule", "color": "#ffa500", "strokeWidth": 2.6, "clip": true},
         "encoding": {"x": {"field": "pref", "type": "quantitative", "axis": null}, "y": {"field": "orange_lo", "type": "quantitative", "title": "Ratio"}, "y2": {"field": "orange_hi"}}},
        {"data": {"name": "stats"}, "transform": [{"filter": "datum.sector === 'X'"}], "mark": {"type": "line", "color": "#ffa500", "strokeWidth": 2, "clip": true},
         "encoding": {"x": {"field": "pref", "type": "quantitative", "axis": null}, "y": {"field": "orange", "type": "quantitative", "title": "Ratio"}}},
        {"data": {"name": "leaders"}, "transform": [{"filter": "datum.sector === 'X'"}], "mark": {"type": "rule", "color": "#ff0000", "strokeWidth": 1.3},
         "encoding": {"x": {"field": "x", "type": "quantitative", "axis": null}, "y": {"field": "y", "type": "quantitative", "title": "Ratio"}, "x2": {"field": "x2"}, "y2": {"field": "y2"}}},
        {"data": {"name": "tips"}, "transform": [{"filter": "datum.sector === 'X'"}], "mark": {"type": "point", "shape": "M-0.8,-1.6L0,0L0.8,-1.6", "filled": false, "color": "#ff0000", "strokeWidth": 1.3, "size": 30, "opacity": 1},
         "encoding": {"x": {"field": "x", "type": "quantitative", "axis": null}, "y": {"field": "y", "type": "quantitative", "title": "Ratio"}}},
        {"data": {"name": "notes"}, "transform": [{"filter": "datum.sector === 'X'"}], "mark": {"type": "text", "color": "#ff0000", "fontSize": 17, "font": "DejaVu Sans", "align": "center", "baseline": "alphabetic"},
         "encoding": {"x": {"field": "x", "type": "quantitative", "axis": null}, "y": {"field": "y", "type": "quantitative", "title": "Ratio"}, "text": {"field": "label"}}}
      ]
    }
  ],
  "config": {
    "font": "DejaVu Sans",
    "background": "#ffffff",
    "view": {"stroke": null},
    "axis": {"labelFont": "DejaVu Sans", "titleFont": "DejaVu Sans", "labelFontSize": 21, "titleFontSize": 24, "titleFontWeight": "normal", "labelColor": "#000000", "titleColor": "#000000", "domainColor": "#333333", "domainWidth": 1.5, "tickColor": "#333333", "tickWidth": 1.3, "tickSize": 5, "grid": false, "labelPadding": 3, "labelFlush": false, "labelOverlap": false},
    "axisY": {"format": ".1f", "minExtent": 40, "maxExtent": 40, "titlePadding": 7},
    "title": {"font": "DejaVu Sans", "fontSize": 24, "fontWeight": "normal", "color": "#000000", "anchor": "start", "frame": "group", "baseline": "alphabetic", "offset": 6}
  }
}
